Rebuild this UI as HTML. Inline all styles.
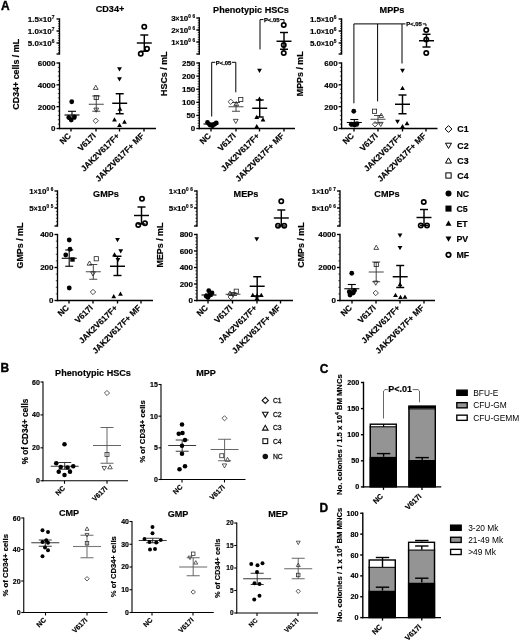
<!DOCTYPE html>
<html><head><meta charset="utf-8"><title>Figure</title>
<style>
html,body{margin:0;padding:0;background:#fff;}
svg{display:block;font-family:"Liberation Sans",sans-serif;}
</style></head><body>
<svg width="520" height="642" viewBox="0 0 520 642">
<rect width="520" height="642" fill="#fff"/>
<text x="0.90" y="9.90" font-size="12" font-weight="bold" text-anchor="start" fill="#000" stroke="#000" stroke-width="0.35">A</text>
<line x1="59.50" y1="62.33" x2="59.50" y2="129.18" stroke="#000" stroke-width="1.35" />
<line x1="57.80" y1="67.37" x2="59.50" y2="67.37" stroke="#000" stroke-width="0.7" />
<line x1="57.80" y1="71.73" x2="59.50" y2="71.73" stroke="#000" stroke-width="0.7" />
<line x1="57.80" y1="76.10" x2="59.50" y2="76.10" stroke="#000" stroke-width="0.7" />
<line x1="57.80" y1="80.47" x2="59.50" y2="80.47" stroke="#000" stroke-width="0.7" />
<line x1="57.80" y1="89.20" x2="59.50" y2="89.20" stroke="#000" stroke-width="0.7" />
<line x1="57.80" y1="93.57" x2="59.50" y2="93.57" stroke="#000" stroke-width="0.7" />
<line x1="57.80" y1="97.93" x2="59.50" y2="97.93" stroke="#000" stroke-width="0.7" />
<line x1="57.80" y1="102.30" x2="59.50" y2="102.30" stroke="#000" stroke-width="0.7" />
<line x1="57.80" y1="111.03" x2="59.50" y2="111.03" stroke="#000" stroke-width="0.7" />
<line x1="57.80" y1="115.40" x2="59.50" y2="115.40" stroke="#000" stroke-width="0.7" />
<line x1="57.80" y1="119.77" x2="59.50" y2="119.77" stroke="#000" stroke-width="0.7" />
<line x1="57.80" y1="124.13" x2="59.50" y2="124.13" stroke="#000" stroke-width="0.7" />
<line x1="56.50" y1="63.00" x2="59.50" y2="63.00" stroke="#000" stroke-width="1.35" />
<text x="55.50" y="65.88" font-size="8" font-weight="bold" text-anchor="end" fill="#000"  stroke="#000" stroke-width="0.18">6000</text>
<line x1="56.50" y1="84.83" x2="59.50" y2="84.83" stroke="#000" stroke-width="1.35" />
<text x="55.50" y="87.71" font-size="8" font-weight="bold" text-anchor="end" fill="#000"  stroke="#000" stroke-width="0.18">4000</text>
<line x1="56.50" y1="106.67" x2="59.50" y2="106.67" stroke="#000" stroke-width="1.35" />
<text x="55.50" y="109.55" font-size="8" font-weight="bold" text-anchor="end" fill="#000"  stroke="#000" stroke-width="0.18">2000</text>
<line x1="56.50" y1="128.50" x2="59.50" y2="128.50" stroke="#000" stroke-width="1.35" />
<text x="55.50" y="131.38" font-size="8" font-weight="bold" text-anchor="end" fill="#000"  stroke="#000" stroke-width="0.18">0</text>
<line x1="59.50" y1="18.32" x2="59.50" y2="54.67" stroke="#000" stroke-width="1.35" />
<line x1="56.50" y1="19.00" x2="59.50" y2="19.00" stroke="#000" stroke-width="1.35" />
<text x="54.30" y="21.90" font-size="8" font-weight="bold" text-anchor="end" fill="#000"  stroke="#000" stroke-width="0.18">1.5<tspan font-size="6.5" dy="-0.3">×</tspan><tspan dy="0.3">10</tspan><tspan font-size="4.8" dy="-3.2">7</tspan></text>
<line x1="56.50" y1="31.00" x2="59.50" y2="31.00" stroke="#000" stroke-width="1.35" />
<text x="54.30" y="33.90" font-size="8" font-weight="bold" text-anchor="end" fill="#000"  stroke="#000" stroke-width="0.18">1.0<tspan font-size="6.5" dy="-0.3">×</tspan><tspan dy="0.3">10</tspan><tspan font-size="4.8" dy="-3.2">7</tspan></text>
<line x1="56.50" y1="43.00" x2="59.50" y2="43.00" stroke="#000" stroke-width="1.35" />
<text x="54.30" y="45.90" font-size="8" font-weight="bold" text-anchor="end" fill="#000"  stroke="#000" stroke-width="0.18">5.0<tspan font-size="6.5" dy="-0.3">×</tspan><tspan dy="0.3">10</tspan><tspan font-size="4.8" dy="-3.2">6</tspan></text>
<line x1="56.50" y1="54.00" x2="59.50" y2="54.00" stroke="#000" stroke-width="1.35" />
<line x1="57.90" y1="21.40" x2="59.50" y2="21.40" stroke="#000" stroke-width="0.7" />
<line x1="57.90" y1="23.80" x2="59.50" y2="23.80" stroke="#000" stroke-width="0.7" />
<line x1="57.90" y1="26.20" x2="59.50" y2="26.20" stroke="#000" stroke-width="0.7" />
<line x1="57.90" y1="28.60" x2="59.50" y2="28.60" stroke="#000" stroke-width="0.7" />
<line x1="57.90" y1="31.00" x2="59.50" y2="31.00" stroke="#000" stroke-width="0.7" />
<line x1="57.90" y1="33.40" x2="59.50" y2="33.40" stroke="#000" stroke-width="0.7" />
<line x1="57.90" y1="35.80" x2="59.50" y2="35.80" stroke="#000" stroke-width="0.7" />
<line x1="57.90" y1="38.20" x2="59.50" y2="38.20" stroke="#000" stroke-width="0.7" />
<line x1="57.90" y1="40.60" x2="59.50" y2="40.60" stroke="#000" stroke-width="0.7" />
<line x1="57.90" y1="43.00" x2="59.50" y2="43.00" stroke="#000" stroke-width="0.7" />
<line x1="57.90" y1="45.40" x2="59.50" y2="45.40" stroke="#000" stroke-width="0.7" />
<line x1="57.90" y1="47.80" x2="59.50" y2="47.80" stroke="#000" stroke-width="0.7" />
<line x1="57.90" y1="50.20" x2="59.50" y2="50.20" stroke="#000" stroke-width="0.7" />
<line x1="57.90" y1="52.60" x2="59.50" y2="52.60" stroke="#000" stroke-width="0.7" />
<line x1="58.83" y1="128.50" x2="156.00" y2="128.50" stroke="#000" stroke-width="1.35" />
<line x1="71.00" y1="128.50" x2="71.00" y2="131.50" stroke="#000" stroke-width="1.35" />
<text x="71.50" y="136.40" font-size="8.3" font-weight="bold" text-anchor="end" fill="#000" transform="rotate(-45 71.50 136.40)"  stroke="#000" stroke-width="0.18">NC</text>
<line x1="96.00" y1="128.50" x2="96.00" y2="131.50" stroke="#000" stroke-width="1.35" />
<text x="96.50" y="136.40" font-size="8.3" font-weight="bold" text-anchor="end" fill="#000" transform="rotate(-45 96.50 136.40)"  stroke="#000" stroke-width="0.18">V617I</text>
<line x1="119.50" y1="128.50" x2="119.50" y2="131.50" stroke="#000" stroke-width="1.35" />
<text x="120.00" y="136.40" font-size="8.3" font-weight="bold" text-anchor="end" fill="#000" transform="rotate(-45 120.00 136.40)"  stroke="#000" stroke-width="0.18">JAK2V617F+</text>
<line x1="144.00" y1="128.50" x2="144.00" y2="131.50" stroke="#000" stroke-width="1.35" />
<text x="144.50" y="136.40" font-size="8.3" font-weight="bold" text-anchor="end" fill="#000" transform="rotate(-45 144.50 136.40)"  stroke="#000" stroke-width="0.18">JAK2V617F+ MF</text>
<text x="110.00" y="12.00" font-size="9.1" font-weight="bold" text-anchor="middle" fill="#000"  stroke="#000" stroke-width="0.18">CD34+</text>
<text x="19.40" y="74.30" font-size="8.9" font-weight="bold" text-anchor="middle" fill="#000" transform="rotate(-90 19.40 74.30)"  stroke="#000" stroke-width="0.18">CD34+ cells / mL</text>
<line x1="64.50" y1="115.00" x2="79.50" y2="115.00" stroke="#000" stroke-width="1.1" />
<line x1="72.00" y1="111.30" x2="72.00" y2="119.00" stroke="#000" stroke-width="1.1" />
<line x1="68.00" y1="111.30" x2="76.00" y2="111.30" stroke="#000" stroke-width="1.1" />
<line x1="68.00" y1="119.00" x2="76.00" y2="119.00" stroke="#000" stroke-width="1.1" />
<circle cx="71.75" cy="101.75" r="2.40" fill="#000"/>
<circle cx="68.75" cy="117.50" r="2.40" fill="#000"/>
<circle cx="71.25" cy="120.00" r="2.40" fill="#000"/>
<circle cx="74.50" cy="117.00" r="2.40" fill="#000"/>
<line x1="88.75" y1="104.25" x2="103.75" y2="104.25" stroke="#333" stroke-width="0.9" />
<line x1="96.25" y1="96.00" x2="96.25" y2="111.25" stroke="#333" stroke-width="0.9" />
<line x1="92.25" y1="96.00" x2="100.25" y2="96.00" stroke="#333" stroke-width="0.9" />
<line x1="92.25" y1="111.25" x2="100.25" y2="111.25" stroke="#333" stroke-width="0.9" />
<polygon points="93.35,89.42 98.15,89.42 95.75,85.22" fill="none" stroke="#222" stroke-width="0.8"/>
<rect x="94.15" y="95.40" width="4.20" height="4.20" fill="none" stroke="#222" stroke-width="0.8"/>
<polygon points="93.85,108.08 98.65,108.08 96.25,112.28" fill="none" stroke="#222" stroke-width="0.8"/>
<polygon points="93.05,120.75 95.75,118.05 98.45,120.75 95.75,123.45" fill="none" stroke="#222" stroke-width="0.8"/>
<line x1="112.20" y1="103.25" x2="127.20" y2="103.25" stroke="#000" stroke-width="1.45" />
<line x1="119.70" y1="93.75" x2="119.70" y2="113.75" stroke="#000" stroke-width="1.45" />
<line x1="115.70" y1="93.75" x2="123.70" y2="93.75" stroke="#000" stroke-width="1.45" />
<line x1="115.70" y1="113.75" x2="123.70" y2="113.75" stroke="#000" stroke-width="1.45" />
<polygon points="117.10,67.33 121.90,67.33 119.50,71.53" fill="#000"/>
<polygon points="117.10,77.33 121.90,77.33 119.50,81.53" fill="#000"/>
<polygon points="117.60,110.67 122.40,110.67 120.00,106.47" fill="#000"/>
<polygon points="112.10,121.42 116.90,121.42 114.50,117.22" fill="#000"/>
<polygon points="122.10,123.67 126.90,123.67 124.50,119.47" fill="#000"/>
<polygon points="117.10,126.92 121.90,126.92 119.50,122.72" fill="#000"/>
<line x1="136.80" y1="43.00" x2="151.80" y2="43.00" stroke="#000" stroke-width="1.45" />
<line x1="144.30" y1="35.00" x2="144.30" y2="51.25" stroke="#000" stroke-width="1.45" />
<line x1="140.30" y1="35.00" x2="148.30" y2="35.00" stroke="#000" stroke-width="1.45" />
<line x1="140.30" y1="51.25" x2="148.30" y2="51.25" stroke="#000" stroke-width="1.45" />
<circle cx="144.25" cy="26.75" r="2.15" fill="none" stroke="#000" stroke-width="1.7"/>
<circle cx="147.00" cy="48.75" r="2.15" fill="none" stroke="#000" stroke-width="1.7"/>
<circle cx="140.75" cy="53.75" r="2.15" fill="none" stroke="#000" stroke-width="1.7"/>
<line x1="199.30" y1="62.33" x2="199.30" y2="129.18" stroke="#000" stroke-width="1.35" />
<line x1="197.60" y1="65.62" x2="199.30" y2="65.62" stroke="#000" stroke-width="0.7" />
<line x1="197.60" y1="68.24" x2="199.30" y2="68.24" stroke="#000" stroke-width="0.7" />
<line x1="197.60" y1="70.86" x2="199.30" y2="70.86" stroke="#000" stroke-width="0.7" />
<line x1="197.60" y1="73.48" x2="199.30" y2="73.48" stroke="#000" stroke-width="0.7" />
<line x1="197.60" y1="78.72" x2="199.30" y2="78.72" stroke="#000" stroke-width="0.7" />
<line x1="197.60" y1="81.34" x2="199.30" y2="81.34" stroke="#000" stroke-width="0.7" />
<line x1="197.60" y1="83.96" x2="199.30" y2="83.96" stroke="#000" stroke-width="0.7" />
<line x1="197.60" y1="86.58" x2="199.30" y2="86.58" stroke="#000" stroke-width="0.7" />
<line x1="197.60" y1="91.82" x2="199.30" y2="91.82" stroke="#000" stroke-width="0.7" />
<line x1="197.60" y1="94.44" x2="199.30" y2="94.44" stroke="#000" stroke-width="0.7" />
<line x1="197.60" y1="97.06" x2="199.30" y2="97.06" stroke="#000" stroke-width="0.7" />
<line x1="197.60" y1="99.68" x2="199.30" y2="99.68" stroke="#000" stroke-width="0.7" />
<line x1="197.60" y1="104.92" x2="199.30" y2="104.92" stroke="#000" stroke-width="0.7" />
<line x1="197.60" y1="107.54" x2="199.30" y2="107.54" stroke="#000" stroke-width="0.7" />
<line x1="197.60" y1="110.16" x2="199.30" y2="110.16" stroke="#000" stroke-width="0.7" />
<line x1="197.60" y1="112.78" x2="199.30" y2="112.78" stroke="#000" stroke-width="0.7" />
<line x1="197.60" y1="118.02" x2="199.30" y2="118.02" stroke="#000" stroke-width="0.7" />
<line x1="197.60" y1="120.64" x2="199.30" y2="120.64" stroke="#000" stroke-width="0.7" />
<line x1="197.60" y1="123.26" x2="199.30" y2="123.26" stroke="#000" stroke-width="0.7" />
<line x1="197.60" y1="125.88" x2="199.30" y2="125.88" stroke="#000" stroke-width="0.7" />
<line x1="196.30" y1="63.00" x2="199.30" y2="63.00" stroke="#000" stroke-width="1.35" />
<text x="195.30" y="65.88" font-size="8" font-weight="bold" text-anchor="end" fill="#000"  stroke="#000" stroke-width="0.18">250</text>
<line x1="196.30" y1="76.10" x2="199.30" y2="76.10" stroke="#000" stroke-width="1.35" />
<text x="195.30" y="78.98" font-size="8" font-weight="bold" text-anchor="end" fill="#000"  stroke="#000" stroke-width="0.18">200</text>
<line x1="196.30" y1="89.20" x2="199.30" y2="89.20" stroke="#000" stroke-width="1.35" />
<text x="195.30" y="92.08" font-size="8" font-weight="bold" text-anchor="end" fill="#000"  stroke="#000" stroke-width="0.18">150</text>
<line x1="196.30" y1="102.30" x2="199.30" y2="102.30" stroke="#000" stroke-width="1.35" />
<text x="195.30" y="105.18" font-size="8" font-weight="bold" text-anchor="end" fill="#000"  stroke="#000" stroke-width="0.18">100</text>
<line x1="196.30" y1="115.40" x2="199.30" y2="115.40" stroke="#000" stroke-width="1.35" />
<text x="195.30" y="118.28" font-size="8" font-weight="bold" text-anchor="end" fill="#000"  stroke="#000" stroke-width="0.18">50</text>
<line x1="196.30" y1="128.50" x2="199.30" y2="128.50" stroke="#000" stroke-width="1.35" />
<text x="195.30" y="131.38" font-size="8" font-weight="bold" text-anchor="end" fill="#000"  stroke="#000" stroke-width="0.18">0</text>
<line x1="199.30" y1="17.32" x2="199.30" y2="54.67" stroke="#000" stroke-width="1.35" />
<line x1="196.30" y1="18.00" x2="199.30" y2="18.00" stroke="#000" stroke-width="1.35" />
<text x="196.60" y="20.90" font-size="8" font-weight="bold" text-anchor="end" fill="#000"  stroke="#000" stroke-width="0.18">3<tspan font-size="6.5" dy="-0.3">×</tspan><tspan dy="0.3">10</tspan><tspan font-size="4.6" dy="-3.2" letter-spacing="1.6">06</tspan></text>
<line x1="196.30" y1="30.00" x2="199.30" y2="30.00" stroke="#000" stroke-width="1.35" />
<text x="196.60" y="32.90" font-size="8" font-weight="bold" text-anchor="end" fill="#000"  stroke="#000" stroke-width="0.18">2<tspan font-size="6.5" dy="-0.3">×</tspan><tspan dy="0.3">10</tspan><tspan font-size="4.6" dy="-3.2" letter-spacing="1.6">06</tspan></text>
<line x1="196.30" y1="42.00" x2="199.30" y2="42.00" stroke="#000" stroke-width="1.35" />
<text x="196.60" y="44.90" font-size="8" font-weight="bold" text-anchor="end" fill="#000"  stroke="#000" stroke-width="0.18">1<tspan font-size="6.5" dy="-0.3">×</tspan><tspan dy="0.3">10</tspan><tspan font-size="4.6" dy="-3.2" letter-spacing="1.6">06</tspan></text>
<line x1="196.30" y1="54.00" x2="199.30" y2="54.00" stroke="#000" stroke-width="1.35" />
<line x1="197.70" y1="20.40" x2="199.30" y2="20.40" stroke="#000" stroke-width="0.7" />
<line x1="197.70" y1="22.80" x2="199.30" y2="22.80" stroke="#000" stroke-width="0.7" />
<line x1="197.70" y1="25.20" x2="199.30" y2="25.20" stroke="#000" stroke-width="0.7" />
<line x1="197.70" y1="27.60" x2="199.30" y2="27.60" stroke="#000" stroke-width="0.7" />
<line x1="197.70" y1="30.00" x2="199.30" y2="30.00" stroke="#000" stroke-width="0.7" />
<line x1="197.70" y1="32.40" x2="199.30" y2="32.40" stroke="#000" stroke-width="0.7" />
<line x1="197.70" y1="34.80" x2="199.30" y2="34.80" stroke="#000" stroke-width="0.7" />
<line x1="197.70" y1="37.20" x2="199.30" y2="37.20" stroke="#000" stroke-width="0.7" />
<line x1="197.70" y1="39.60" x2="199.30" y2="39.60" stroke="#000" stroke-width="0.7" />
<line x1="197.70" y1="42.00" x2="199.30" y2="42.00" stroke="#000" stroke-width="0.7" />
<line x1="197.70" y1="44.40" x2="199.30" y2="44.40" stroke="#000" stroke-width="0.7" />
<line x1="197.70" y1="46.80" x2="199.30" y2="46.80" stroke="#000" stroke-width="0.7" />
<line x1="197.70" y1="49.20" x2="199.30" y2="49.20" stroke="#000" stroke-width="0.7" />
<line x1="197.70" y1="51.60" x2="199.30" y2="51.60" stroke="#000" stroke-width="0.7" />
<line x1="198.62" y1="128.50" x2="295.00" y2="128.50" stroke="#000" stroke-width="1.35" />
<line x1="211.00" y1="128.50" x2="211.00" y2="131.50" stroke="#000" stroke-width="1.35" />
<text x="211.50" y="136.40" font-size="8.3" font-weight="bold" text-anchor="end" fill="#000" transform="rotate(-45 211.50 136.40)"  stroke="#000" stroke-width="0.18">NC</text>
<line x1="236.00" y1="128.50" x2="236.00" y2="131.50" stroke="#000" stroke-width="1.35" />
<text x="236.50" y="136.40" font-size="8.3" font-weight="bold" text-anchor="end" fill="#000" transform="rotate(-45 236.50 136.40)"  stroke="#000" stroke-width="0.18">V617I</text>
<line x1="259.50" y1="128.50" x2="259.50" y2="131.50" stroke="#000" stroke-width="1.35" />
<text x="260.00" y="136.40" font-size="8.3" font-weight="bold" text-anchor="end" fill="#000" transform="rotate(-45 260.00 136.40)"  stroke="#000" stroke-width="0.18">JAK2V617F+</text>
<line x1="284.00" y1="128.50" x2="284.00" y2="131.50" stroke="#000" stroke-width="1.35" />
<text x="284.50" y="136.40" font-size="8.3" font-weight="bold" text-anchor="end" fill="#000" transform="rotate(-45 284.50 136.40)"  stroke="#000" stroke-width="0.18">JAK2V617F+ MF</text>
<text x="251.00" y="12.50" font-size="9.1" font-weight="bold" text-anchor="middle" fill="#000"  stroke="#000" stroke-width="0.18">Phenotypic HSCs</text>
<text x="167.30" y="73.70" font-size="8.9" font-weight="bold" text-anchor="middle" fill="#000" transform="rotate(-90 167.30 73.70)"  stroke="#000" stroke-width="0.18">HSCs / mL</text>
<line x1="203.50" y1="124.00" x2="218.50" y2="124.00" stroke="#000" stroke-width="1.1" />
<line x1="211.00" y1="123.00" x2="211.00" y2="125.00" stroke="#000" stroke-width="1.1" />
<line x1="207.00" y1="123.00" x2="215.00" y2="123.00" stroke="#000" stroke-width="1.1" />
<line x1="207.00" y1="125.00" x2="215.00" y2="125.00" stroke="#000" stroke-width="1.1" />
<circle cx="207.50" cy="122.50" r="2.40" fill="#000"/>
<circle cx="210.00" cy="125.00" r="2.40" fill="#000"/>
<circle cx="212.50" cy="125.75" r="2.40" fill="#000"/>
<circle cx="216.25" cy="123.00" r="2.40" fill="#000"/>
<circle cx="214.50" cy="124.25" r="2.40" fill="#000"/>
<line x1="228.50" y1="106.75" x2="243.50" y2="106.75" stroke="#333" stroke-width="0.9" />
<line x1="236.00" y1="102.50" x2="236.00" y2="111.25" stroke="#333" stroke-width="0.9" />
<line x1="232.00" y1="102.50" x2="240.00" y2="102.50" stroke="#333" stroke-width="0.9" />
<line x1="232.00" y1="111.25" x2="240.00" y2="111.25" stroke="#333" stroke-width="0.9" />
<polygon points="228.05,101.75 230.75,99.05 233.45,101.75 230.75,104.45" fill="none" stroke="#222" stroke-width="0.8"/>
<rect x="238.65" y="97.40" width="4.20" height="4.20" fill="none" stroke="#222" stroke-width="0.8"/>
<polygon points="233.85,105.67 238.65,105.67 236.25,101.47" fill="none" stroke="#222" stroke-width="0.8"/>
<polygon points="233.35,119.33 238.15,119.33 235.75,123.53" fill="none" stroke="#222" stroke-width="0.8"/>
<line x1="252.20" y1="108.25" x2="267.20" y2="108.25" stroke="#000" stroke-width="1.45" />
<line x1="259.70" y1="100.00" x2="259.70" y2="117.00" stroke="#000" stroke-width="1.45" />
<line x1="255.70" y1="100.00" x2="263.70" y2="100.00" stroke="#000" stroke-width="1.45" />
<line x1="255.70" y1="117.00" x2="263.70" y2="117.00" stroke="#000" stroke-width="1.45" />
<polygon points="257.10,68.83 261.90,68.83 259.50,73.03" fill="#000"/>
<polygon points="257.10,100.67 261.90,100.67 259.50,96.47" fill="#000"/>
<polygon points="254.35,118.92 259.15,118.92 256.75,114.72" fill="#000"/>
<polygon points="260.60,121.42 265.40,121.42 263.00,117.22" fill="#000"/>
<polygon points="254.35,128.17 259.15,128.17 256.75,123.97" fill="#000"/>
<line x1="276.50" y1="41.25" x2="291.50" y2="41.25" stroke="#000" stroke-width="1.45" />
<line x1="284.00" y1="32.50" x2="284.00" y2="49.25" stroke="#000" stroke-width="1.45" />
<line x1="280.00" y1="32.50" x2="288.00" y2="32.50" stroke="#000" stroke-width="1.45" />
<line x1="280.00" y1="49.25" x2="288.00" y2="49.25" stroke="#000" stroke-width="1.45" />
<circle cx="283.75" cy="25.00" r="2.15" fill="none" stroke="#000" stroke-width="1.7"/>
<circle cx="283.75" cy="45.00" r="2.15" fill="none" stroke="#000" stroke-width="1.7"/>
<circle cx="283.75" cy="53.00" r="2.15" fill="none" stroke="#000" stroke-width="1.7"/>
<polyline points="211.7,116.5 211.7,62.3 215.3,62.3" fill="none" stroke="#000" stroke-width="1"/>
<polyline points="231.8,62.3 235.8,62.3 235.8,92.3" fill="none" stroke="#000" stroke-width="1"/>
<text x="223.60" y="64.50" font-size="5.9" font-weight="bold" text-anchor="middle" fill="#000" stroke="#000" stroke-width="0.25">P&lt;.05</text>
<polyline points="260,49.4 260,19.6 263.5,19.6" fill="none" stroke="#000" stroke-width="1"/>
<polyline points="280,19.6 284,19.6 284,22" fill="none" stroke="#000" stroke-width="1"/>
<text x="271.70" y="21.80" font-size="5.9" font-weight="bold" text-anchor="middle" fill="#000" stroke="#000" stroke-width="0.25">P&lt;.05</text>
<line x1="341.60" y1="62.33" x2="341.60" y2="129.18" stroke="#000" stroke-width="1.35" />
<line x1="339.90" y1="67.37" x2="341.60" y2="67.37" stroke="#000" stroke-width="0.7" />
<line x1="339.90" y1="71.73" x2="341.60" y2="71.73" stroke="#000" stroke-width="0.7" />
<line x1="339.90" y1="76.10" x2="341.60" y2="76.10" stroke="#000" stroke-width="0.7" />
<line x1="339.90" y1="80.47" x2="341.60" y2="80.47" stroke="#000" stroke-width="0.7" />
<line x1="339.90" y1="89.20" x2="341.60" y2="89.20" stroke="#000" stroke-width="0.7" />
<line x1="339.90" y1="93.57" x2="341.60" y2="93.57" stroke="#000" stroke-width="0.7" />
<line x1="339.90" y1="97.93" x2="341.60" y2="97.93" stroke="#000" stroke-width="0.7" />
<line x1="339.90" y1="102.30" x2="341.60" y2="102.30" stroke="#000" stroke-width="0.7" />
<line x1="339.90" y1="111.03" x2="341.60" y2="111.03" stroke="#000" stroke-width="0.7" />
<line x1="339.90" y1="115.40" x2="341.60" y2="115.40" stroke="#000" stroke-width="0.7" />
<line x1="339.90" y1="119.77" x2="341.60" y2="119.77" stroke="#000" stroke-width="0.7" />
<line x1="339.90" y1="124.13" x2="341.60" y2="124.13" stroke="#000" stroke-width="0.7" />
<line x1="338.60" y1="63.00" x2="341.60" y2="63.00" stroke="#000" stroke-width="1.35" />
<text x="337.60" y="65.88" font-size="8" font-weight="bold" text-anchor="end" fill="#000"  stroke="#000" stroke-width="0.18">600</text>
<line x1="338.60" y1="84.83" x2="341.60" y2="84.83" stroke="#000" stroke-width="1.35" />
<text x="337.60" y="87.71" font-size="8" font-weight="bold" text-anchor="end" fill="#000"  stroke="#000" stroke-width="0.18">400</text>
<line x1="338.60" y1="106.67" x2="341.60" y2="106.67" stroke="#000" stroke-width="1.35" />
<text x="337.60" y="109.55" font-size="8" font-weight="bold" text-anchor="end" fill="#000"  stroke="#000" stroke-width="0.18">200</text>
<line x1="338.60" y1="128.50" x2="341.60" y2="128.50" stroke="#000" stroke-width="1.35" />
<text x="337.60" y="131.38" font-size="8" font-weight="bold" text-anchor="end" fill="#000"  stroke="#000" stroke-width="0.18">0</text>
<line x1="341.60" y1="18.32" x2="341.60" y2="54.67" stroke="#000" stroke-width="1.35" />
<line x1="338.60" y1="19.00" x2="341.60" y2="19.00" stroke="#000" stroke-width="1.35" />
<text x="336.40" y="21.90" font-size="8" font-weight="bold" text-anchor="end" fill="#000"  stroke="#000" stroke-width="0.18">1.5<tspan font-size="6.5" dy="-0.3">×</tspan><tspan dy="0.3">10</tspan><tspan font-size="4.8" dy="-3.2">6</tspan></text>
<line x1="338.60" y1="31.00" x2="341.60" y2="31.00" stroke="#000" stroke-width="1.35" />
<text x="336.40" y="33.90" font-size="8" font-weight="bold" text-anchor="end" fill="#000"  stroke="#000" stroke-width="0.18">1.0<tspan font-size="6.5" dy="-0.3">×</tspan><tspan dy="0.3">10</tspan><tspan font-size="4.8" dy="-3.2">6</tspan></text>
<line x1="338.60" y1="43.00" x2="341.60" y2="43.00" stroke="#000" stroke-width="1.35" />
<text x="336.40" y="45.90" font-size="8" font-weight="bold" text-anchor="end" fill="#000"  stroke="#000" stroke-width="0.18">5.0<tspan font-size="6.5" dy="-0.3">×</tspan><tspan dy="0.3">10</tspan><tspan font-size="4.8" dy="-3.2">5</tspan></text>
<line x1="338.60" y1="54.00" x2="341.60" y2="54.00" stroke="#000" stroke-width="1.35" />
<line x1="340.00" y1="21.40" x2="341.60" y2="21.40" stroke="#000" stroke-width="0.7" />
<line x1="340.00" y1="23.80" x2="341.60" y2="23.80" stroke="#000" stroke-width="0.7" />
<line x1="340.00" y1="26.20" x2="341.60" y2="26.20" stroke="#000" stroke-width="0.7" />
<line x1="340.00" y1="28.60" x2="341.60" y2="28.60" stroke="#000" stroke-width="0.7" />
<line x1="340.00" y1="31.00" x2="341.60" y2="31.00" stroke="#000" stroke-width="0.7" />
<line x1="340.00" y1="33.40" x2="341.60" y2="33.40" stroke="#000" stroke-width="0.7" />
<line x1="340.00" y1="35.80" x2="341.60" y2="35.80" stroke="#000" stroke-width="0.7" />
<line x1="340.00" y1="38.20" x2="341.60" y2="38.20" stroke="#000" stroke-width="0.7" />
<line x1="340.00" y1="40.60" x2="341.60" y2="40.60" stroke="#000" stroke-width="0.7" />
<line x1="340.00" y1="43.00" x2="341.60" y2="43.00" stroke="#000" stroke-width="0.7" />
<line x1="340.00" y1="45.40" x2="341.60" y2="45.40" stroke="#000" stroke-width="0.7" />
<line x1="340.00" y1="47.80" x2="341.60" y2="47.80" stroke="#000" stroke-width="0.7" />
<line x1="340.00" y1="50.20" x2="341.60" y2="50.20" stroke="#000" stroke-width="0.7" />
<line x1="340.00" y1="52.60" x2="341.60" y2="52.60" stroke="#000" stroke-width="0.7" />
<line x1="340.93" y1="128.50" x2="437.50" y2="128.50" stroke="#000" stroke-width="1.35" />
<line x1="354.00" y1="128.50" x2="354.00" y2="131.50" stroke="#000" stroke-width="1.35" />
<text x="354.50" y="136.40" font-size="8.3" font-weight="bold" text-anchor="end" fill="#000" transform="rotate(-45 354.50 136.40)"  stroke="#000" stroke-width="0.18">NC</text>
<line x1="378.00" y1="128.50" x2="378.00" y2="131.50" stroke="#000" stroke-width="1.35" />
<text x="378.50" y="136.40" font-size="8.3" font-weight="bold" text-anchor="end" fill="#000" transform="rotate(-45 378.50 136.40)"  stroke="#000" stroke-width="0.18">V617I</text>
<line x1="402.50" y1="128.50" x2="402.50" y2="131.50" stroke="#000" stroke-width="1.35" />
<text x="403.00" y="136.40" font-size="8.3" font-weight="bold" text-anchor="end" fill="#000" transform="rotate(-45 403.00 136.40)"  stroke="#000" stroke-width="0.18">JAK2V617F+</text>
<line x1="426.00" y1="128.50" x2="426.00" y2="131.50" stroke="#000" stroke-width="1.35" />
<text x="426.50" y="136.40" font-size="8.3" font-weight="bold" text-anchor="end" fill="#000" transform="rotate(-45 426.50 136.40)"  stroke="#000" stroke-width="0.18">JAK2V617F+ MF</text>
<text x="392.00" y="12.50" font-size="9.1" font-weight="bold" text-anchor="middle" fill="#000"  stroke="#000" stroke-width="0.18">MPPs</text>
<text x="303.30" y="73.80" font-size="8.9" font-weight="bold" text-anchor="middle" fill="#000" transform="rotate(-90 303.30 73.80)"  stroke="#000" stroke-width="0.18">MPPs / mL</text>
<line x1="346.80" y1="122.50" x2="361.80" y2="122.50" stroke="#000" stroke-width="1.1" />
<line x1="354.30" y1="119.50" x2="354.30" y2="126.00" stroke="#000" stroke-width="1.1" />
<line x1="350.30" y1="119.50" x2="358.30" y2="119.50" stroke="#000" stroke-width="1.1" />
<line x1="350.30" y1="126.00" x2="358.30" y2="126.00" stroke="#000" stroke-width="1.1" />
<circle cx="353.75" cy="111.25" r="2.40" fill="#000"/>
<circle cx="351.25" cy="124.25" r="2.40" fill="#000"/>
<circle cx="354.50" cy="125.00" r="2.40" fill="#000"/>
<circle cx="357.00" cy="123.75" r="2.40" fill="#000"/>
<line x1="370.50" y1="119.25" x2="385.50" y2="119.25" stroke="#333" stroke-width="0.9" />
<line x1="378.00" y1="115.50" x2="378.00" y2="123.00" stroke="#333" stroke-width="0.9" />
<line x1="374.00" y1="115.50" x2="382.00" y2="115.50" stroke="#333" stroke-width="0.9" />
<line x1="374.00" y1="123.00" x2="382.00" y2="123.00" stroke="#333" stroke-width="0.9" />
<rect x="372.40" y="109.15" width="4.20" height="4.20" fill="none" stroke="#222" stroke-width="0.8"/>
<polygon points="378.85,117.42 383.65,117.42 381.25,113.22" fill="none" stroke="#222" stroke-width="0.8"/>
<polygon points="372.30,124.25 375.00,121.55 377.70,124.25 375.00,126.95" fill="none" stroke="#222" stroke-width="0.8"/>
<polygon points="378.35,122.33 383.15,122.33 380.75,126.53" fill="none" stroke="#222" stroke-width="0.8"/>
<line x1="395.00" y1="104.25" x2="410.00" y2="104.25" stroke="#000" stroke-width="1.45" />
<line x1="402.50" y1="95.00" x2="402.50" y2="113.75" stroke="#000" stroke-width="1.45" />
<line x1="398.50" y1="95.00" x2="406.50" y2="95.00" stroke="#000" stroke-width="1.45" />
<line x1="398.50" y1="113.75" x2="406.50" y2="113.75" stroke="#000" stroke-width="1.45" />
<polygon points="400.10,68.83 404.90,68.83 402.50,73.03" fill="#000"/>
<polygon points="400.10,89.92 404.90,89.92 402.50,85.72" fill="#000"/>
<polygon points="395.10,119.83 399.90,119.83 397.50,124.03" fill="#000"/>
<polygon points="404.60,125.17 409.40,125.17 407.00,120.97" fill="#000"/>
<polygon points="400.10,128.17 404.90,128.17 402.50,123.97" fill="#000"/>
<line x1="419.00" y1="40.75" x2="434.00" y2="40.75" stroke="#000" stroke-width="1.45" />
<line x1="426.50" y1="34.25" x2="426.50" y2="47.00" stroke="#000" stroke-width="1.45" />
<line x1="422.50" y1="34.25" x2="430.50" y2="34.25" stroke="#000" stroke-width="1.45" />
<line x1="422.50" y1="47.00" x2="430.50" y2="47.00" stroke="#000" stroke-width="1.45" />
<circle cx="426.25" cy="30.00" r="2.15" fill="none" stroke="#000" stroke-width="1.7"/>
<circle cx="426.25" cy="39.50" r="2.15" fill="none" stroke="#000" stroke-width="1.7"/>
<circle cx="426.25" cy="53.00" r="2.15" fill="none" stroke="#000" stroke-width="1.7"/>
<polyline points="353.9,103.3 353.9,23.9 405.5,23.9" fill="none" stroke="#000" stroke-width="1"/>
<line x1="377.60" y1="23.90" x2="377.60" y2="101.40" stroke="#000" stroke-width="1" />
<line x1="402.00" y1="23.90" x2="402.00" y2="63.50" stroke="#000" stroke-width="1" />
<polyline points="422.8,23.9 426,23.9 426,26.3" fill="none" stroke="#000" stroke-width="1"/>
<text x="414.10" y="26.10" font-size="5.9" font-weight="bold" text-anchor="middle" fill="#000" stroke="#000" stroke-width="0.25">P&lt;.05</text>
<line x1="57.50" y1="233.82" x2="57.50" y2="301.18" stroke="#000" stroke-width="1.35" />
<line x1="55.80" y1="241.10" x2="57.50" y2="241.10" stroke="#000" stroke-width="0.7" />
<line x1="55.80" y1="247.70" x2="57.50" y2="247.70" stroke="#000" stroke-width="0.7" />
<line x1="55.80" y1="254.30" x2="57.50" y2="254.30" stroke="#000" stroke-width="0.7" />
<line x1="55.80" y1="260.90" x2="57.50" y2="260.90" stroke="#000" stroke-width="0.7" />
<line x1="55.80" y1="274.10" x2="57.50" y2="274.10" stroke="#000" stroke-width="0.7" />
<line x1="55.80" y1="280.70" x2="57.50" y2="280.70" stroke="#000" stroke-width="0.7" />
<line x1="55.80" y1="287.30" x2="57.50" y2="287.30" stroke="#000" stroke-width="0.7" />
<line x1="55.80" y1="293.90" x2="57.50" y2="293.90" stroke="#000" stroke-width="0.7" />
<line x1="54.50" y1="234.50" x2="57.50" y2="234.50" stroke="#000" stroke-width="1.35" />
<text x="53.50" y="237.38" font-size="8" font-weight="bold" text-anchor="end" fill="#000"  stroke="#000" stroke-width="0.18">400</text>
<line x1="54.50" y1="267.50" x2="57.50" y2="267.50" stroke="#000" stroke-width="1.35" />
<text x="53.50" y="270.38" font-size="8" font-weight="bold" text-anchor="end" fill="#000"  stroke="#000" stroke-width="0.18">200</text>
<line x1="54.50" y1="300.50" x2="57.50" y2="300.50" stroke="#000" stroke-width="1.35" />
<text x="53.50" y="303.38" font-size="8" font-weight="bold" text-anchor="end" fill="#000"  stroke="#000" stroke-width="0.18">0</text>
<line x1="57.50" y1="190.32" x2="57.50" y2="226.68" stroke="#000" stroke-width="1.35" />
<line x1="54.50" y1="191.00" x2="57.50" y2="191.00" stroke="#000" stroke-width="1.35" />
<text x="54.80" y="193.90" font-size="8" font-weight="bold" text-anchor="end" fill="#000"  stroke="#000" stroke-width="0.18">1<tspan font-size="6.5" dy="-0.3">×</tspan><tspan dy="0.3">10</tspan><tspan font-size="4.6" dy="-3.2" letter-spacing="1.6">06</tspan></text>
<line x1="54.50" y1="208.00" x2="57.50" y2="208.00" stroke="#000" stroke-width="1.35" />
<text x="54.80" y="210.90" font-size="8" font-weight="bold" text-anchor="end" fill="#000"  stroke="#000" stroke-width="0.18">5<tspan font-size="6.5" dy="-0.3">×</tspan><tspan dy="0.3">10</tspan><tspan font-size="4.6" dy="-3.2" letter-spacing="1.6">05</tspan></text>
<line x1="54.50" y1="226.00" x2="57.50" y2="226.00" stroke="#000" stroke-width="1.35" />
<line x1="55.90" y1="194.40" x2="57.50" y2="194.40" stroke="#000" stroke-width="0.7" />
<line x1="55.90" y1="197.80" x2="57.50" y2="197.80" stroke="#000" stroke-width="0.7" />
<line x1="55.90" y1="201.20" x2="57.50" y2="201.20" stroke="#000" stroke-width="0.7" />
<line x1="55.90" y1="204.60" x2="57.50" y2="204.60" stroke="#000" stroke-width="0.7" />
<line x1="55.90" y1="208.00" x2="57.50" y2="208.00" stroke="#000" stroke-width="0.7" />
<line x1="55.90" y1="211.40" x2="57.50" y2="211.40" stroke="#000" stroke-width="0.7" />
<line x1="55.90" y1="214.80" x2="57.50" y2="214.80" stroke="#000" stroke-width="0.7" />
<line x1="55.90" y1="218.20" x2="57.50" y2="218.20" stroke="#000" stroke-width="0.7" />
<line x1="55.90" y1="221.60" x2="57.50" y2="221.60" stroke="#000" stroke-width="0.7" />
<line x1="55.90" y1="225.00" x2="57.50" y2="225.00" stroke="#000" stroke-width="0.7" />
<line x1="56.83" y1="300.50" x2="153.00" y2="300.50" stroke="#000" stroke-width="1.35" />
<line x1="69.00" y1="300.50" x2="69.00" y2="303.50" stroke="#000" stroke-width="1.35" />
<text x="69.50" y="308.40" font-size="8.3" font-weight="bold" text-anchor="end" fill="#000" transform="rotate(-45 69.50 308.40)"  stroke="#000" stroke-width="0.18">NC</text>
<line x1="93.00" y1="300.50" x2="93.00" y2="303.50" stroke="#000" stroke-width="1.35" />
<text x="93.50" y="308.40" font-size="8.3" font-weight="bold" text-anchor="end" fill="#000" transform="rotate(-45 93.50 308.40)"  stroke="#000" stroke-width="0.18">V617I</text>
<line x1="117.50" y1="300.50" x2="117.50" y2="303.50" stroke="#000" stroke-width="1.35" />
<text x="118.00" y="308.40" font-size="8.3" font-weight="bold" text-anchor="end" fill="#000" transform="rotate(-45 118.00 308.40)"  stroke="#000" stroke-width="0.18">JAK2V617F+</text>
<line x1="141.00" y1="300.50" x2="141.00" y2="303.50" stroke="#000" stroke-width="1.35" />
<text x="141.50" y="308.40" font-size="8.3" font-weight="bold" text-anchor="end" fill="#000" transform="rotate(-45 141.50 308.40)"  stroke="#000" stroke-width="0.18">JAK2V617F+ MF</text>
<text x="106.00" y="197.00" font-size="9.1" font-weight="bold" text-anchor="middle" fill="#000"  stroke="#000" stroke-width="0.18">GMPs</text>
<text x="23.00" y="245.50" font-size="8.9" font-weight="bold" text-anchor="middle" fill="#000" transform="rotate(-90 23.00 245.50)"  stroke="#000" stroke-width="0.18">GMPs / mL</text>
<line x1="61.70" y1="258.25" x2="76.70" y2="258.25" stroke="#000" stroke-width="1.1" />
<line x1="69.20" y1="250.00" x2="69.20" y2="266.25" stroke="#000" stroke-width="1.1" />
<line x1="65.20" y1="250.00" x2="73.20" y2="250.00" stroke="#000" stroke-width="1.1" />
<line x1="65.20" y1="266.25" x2="73.20" y2="266.25" stroke="#000" stroke-width="1.1" />
<circle cx="69.25" cy="240.00" r="2.40" fill="#000"/>
<circle cx="70.00" cy="249.25" r="2.40" fill="#000"/>
<circle cx="65.75" cy="255.00" r="2.40" fill="#000"/>
<rect x="70.30" y="257.30" width="4.40" height="4.40" fill="#000"/>
<circle cx="69.25" cy="288.00" r="2.40" fill="#000"/>
<line x1="85.80" y1="271.75" x2="100.80" y2="271.75" stroke="#333" stroke-width="0.9" />
<line x1="93.30" y1="264.50" x2="93.30" y2="279.25" stroke="#333" stroke-width="0.9" />
<line x1="89.30" y1="264.50" x2="97.30" y2="264.50" stroke="#333" stroke-width="0.9" />
<line x1="89.30" y1="279.25" x2="97.30" y2="279.25" stroke="#333" stroke-width="0.9" />
<rect x="94.15" y="256.65" width="4.20" height="4.20" fill="none" stroke="#222" stroke-width="0.8"/>
<polygon points="87.10,265.17 91.90,265.17 89.50,260.97" fill="none" stroke="#222" stroke-width="0.8"/>
<polygon points="90.60,271.83 95.40,271.83 93.00,276.03" fill="none" stroke="#222" stroke-width="0.8"/>
<polygon points="90.30,292.00 93.00,289.30 95.70,292.00 93.00,294.70" fill="none" stroke="#222" stroke-width="0.8"/>
<line x1="110.00" y1="266.25" x2="125.00" y2="266.25" stroke="#000" stroke-width="1.45" />
<line x1="117.50" y1="256.25" x2="117.50" y2="275.50" stroke="#000" stroke-width="1.45" />
<line x1="113.50" y1="256.25" x2="121.50" y2="256.25" stroke="#000" stroke-width="1.45" />
<line x1="113.50" y1="275.50" x2="121.50" y2="275.50" stroke="#000" stroke-width="1.45" />
<polygon points="115.10,238.08 119.90,238.08 117.50,242.28" fill="#000"/>
<polygon points="118.35,249.33 123.15,249.33 120.75,253.53" fill="#000"/>
<polygon points="112.10,256.42 116.90,256.42 114.50,252.22" fill="#000"/>
<polygon points="115.60,258.08 120.40,258.08 118.00,262.28" fill="#000"/>
<polygon points="111.35,298.17 116.15,298.17 113.75,293.97" fill="#000"/>
<polygon points="118.10,295.67 122.90,295.67 120.50,291.47" fill="#000"/>
<line x1="134.00" y1="215.50" x2="149.00" y2="215.50" stroke="#000" stroke-width="1.45" />
<line x1="141.50" y1="207.00" x2="141.50" y2="224.00" stroke="#000" stroke-width="1.45" />
<line x1="137.50" y1="207.00" x2="145.50" y2="207.00" stroke="#000" stroke-width="1.45" />
<line x1="137.50" y1="224.00" x2="145.50" y2="224.00" stroke="#000" stroke-width="1.45" />
<circle cx="142.00" cy="198.75" r="2.15" fill="none" stroke="#000" stroke-width="1.7"/>
<circle cx="138.25" cy="225.00" r="2.15" fill="none" stroke="#000" stroke-width="1.7"/>
<circle cx="145.00" cy="223.25" r="2.15" fill="none" stroke="#000" stroke-width="1.7"/>
<line x1="197.00" y1="233.82" x2="197.00" y2="301.18" stroke="#000" stroke-width="1.35" />
<line x1="195.30" y1="237.80" x2="197.00" y2="237.80" stroke="#000" stroke-width="0.7" />
<line x1="195.30" y1="241.10" x2="197.00" y2="241.10" stroke="#000" stroke-width="0.7" />
<line x1="195.30" y1="244.40" x2="197.00" y2="244.40" stroke="#000" stroke-width="0.7" />
<line x1="195.30" y1="247.70" x2="197.00" y2="247.70" stroke="#000" stroke-width="0.7" />
<line x1="195.30" y1="254.30" x2="197.00" y2="254.30" stroke="#000" stroke-width="0.7" />
<line x1="195.30" y1="257.60" x2="197.00" y2="257.60" stroke="#000" stroke-width="0.7" />
<line x1="195.30" y1="260.90" x2="197.00" y2="260.90" stroke="#000" stroke-width="0.7" />
<line x1="195.30" y1="264.20" x2="197.00" y2="264.20" stroke="#000" stroke-width="0.7" />
<line x1="195.30" y1="270.80" x2="197.00" y2="270.80" stroke="#000" stroke-width="0.7" />
<line x1="195.30" y1="274.10" x2="197.00" y2="274.10" stroke="#000" stroke-width="0.7" />
<line x1="195.30" y1="277.40" x2="197.00" y2="277.40" stroke="#000" stroke-width="0.7" />
<line x1="195.30" y1="280.70" x2="197.00" y2="280.70" stroke="#000" stroke-width="0.7" />
<line x1="195.30" y1="287.30" x2="197.00" y2="287.30" stroke="#000" stroke-width="0.7" />
<line x1="195.30" y1="290.60" x2="197.00" y2="290.60" stroke="#000" stroke-width="0.7" />
<line x1="195.30" y1="293.90" x2="197.00" y2="293.90" stroke="#000" stroke-width="0.7" />
<line x1="195.30" y1="297.20" x2="197.00" y2="297.20" stroke="#000" stroke-width="0.7" />
<line x1="194.00" y1="234.50" x2="197.00" y2="234.50" stroke="#000" stroke-width="1.35" />
<text x="193.00" y="237.38" font-size="8" font-weight="bold" text-anchor="end" fill="#000"  stroke="#000" stroke-width="0.18">800</text>
<line x1="194.00" y1="251.00" x2="197.00" y2="251.00" stroke="#000" stroke-width="1.35" />
<text x="193.00" y="253.88" font-size="8" font-weight="bold" text-anchor="end" fill="#000"  stroke="#000" stroke-width="0.18">600</text>
<line x1="194.00" y1="267.50" x2="197.00" y2="267.50" stroke="#000" stroke-width="1.35" />
<text x="193.00" y="270.38" font-size="8" font-weight="bold" text-anchor="end" fill="#000"  stroke="#000" stroke-width="0.18">400</text>
<line x1="194.00" y1="284.00" x2="197.00" y2="284.00" stroke="#000" stroke-width="1.35" />
<text x="193.00" y="286.88" font-size="8" font-weight="bold" text-anchor="end" fill="#000"  stroke="#000" stroke-width="0.18">200</text>
<line x1="194.00" y1="300.50" x2="197.00" y2="300.50" stroke="#000" stroke-width="1.35" />
<text x="193.00" y="303.38" font-size="8" font-weight="bold" text-anchor="end" fill="#000"  stroke="#000" stroke-width="0.18">0</text>
<line x1="197.00" y1="190.32" x2="197.00" y2="226.68" stroke="#000" stroke-width="1.35" />
<line x1="194.00" y1="191.00" x2="197.00" y2="191.00" stroke="#000" stroke-width="1.35" />
<text x="194.30" y="193.90" font-size="8" font-weight="bold" text-anchor="end" fill="#000"  stroke="#000" stroke-width="0.18">1<tspan font-size="6.5" dy="-0.3">×</tspan><tspan dy="0.3">10</tspan><tspan font-size="4.6" dy="-3.2" letter-spacing="1.6">06</tspan></text>
<line x1="194.00" y1="208.00" x2="197.00" y2="208.00" stroke="#000" stroke-width="1.35" />
<text x="194.30" y="210.90" font-size="8" font-weight="bold" text-anchor="end" fill="#000"  stroke="#000" stroke-width="0.18">5<tspan font-size="6.5" dy="-0.3">×</tspan><tspan dy="0.3">10</tspan><tspan font-size="4.6" dy="-3.2" letter-spacing="1.6">05</tspan></text>
<line x1="194.00" y1="226.00" x2="197.00" y2="226.00" stroke="#000" stroke-width="1.35" />
<line x1="195.40" y1="194.40" x2="197.00" y2="194.40" stroke="#000" stroke-width="0.7" />
<line x1="195.40" y1="197.80" x2="197.00" y2="197.80" stroke="#000" stroke-width="0.7" />
<line x1="195.40" y1="201.20" x2="197.00" y2="201.20" stroke="#000" stroke-width="0.7" />
<line x1="195.40" y1="204.60" x2="197.00" y2="204.60" stroke="#000" stroke-width="0.7" />
<line x1="195.40" y1="208.00" x2="197.00" y2="208.00" stroke="#000" stroke-width="0.7" />
<line x1="195.40" y1="211.40" x2="197.00" y2="211.40" stroke="#000" stroke-width="0.7" />
<line x1="195.40" y1="214.80" x2="197.00" y2="214.80" stroke="#000" stroke-width="0.7" />
<line x1="195.40" y1="218.20" x2="197.00" y2="218.20" stroke="#000" stroke-width="0.7" />
<line x1="195.40" y1="221.60" x2="197.00" y2="221.60" stroke="#000" stroke-width="0.7" />
<line x1="195.40" y1="225.00" x2="197.00" y2="225.00" stroke="#000" stroke-width="0.7" />
<line x1="196.32" y1="300.50" x2="293.00" y2="300.50" stroke="#000" stroke-width="1.35" />
<line x1="208.00" y1="300.50" x2="208.00" y2="303.50" stroke="#000" stroke-width="1.35" />
<text x="208.50" y="308.40" font-size="8.3" font-weight="bold" text-anchor="end" fill="#000" transform="rotate(-45 208.50 308.40)"  stroke="#000" stroke-width="0.18">NC</text>
<line x1="232.50" y1="300.50" x2="232.50" y2="303.50" stroke="#000" stroke-width="1.35" />
<text x="233.00" y="308.40" font-size="8.3" font-weight="bold" text-anchor="end" fill="#000" transform="rotate(-45 233.00 308.40)"  stroke="#000" stroke-width="0.18">V617I</text>
<line x1="257.00" y1="300.50" x2="257.00" y2="303.50" stroke="#000" stroke-width="1.35" />
<text x="257.50" y="308.40" font-size="8.3" font-weight="bold" text-anchor="end" fill="#000" transform="rotate(-45 257.50 308.40)"  stroke="#000" stroke-width="0.18">JAK2V617F+</text>
<line x1="280.50" y1="300.50" x2="280.50" y2="303.50" stroke="#000" stroke-width="1.35" />
<text x="281.00" y="308.40" font-size="8.3" font-weight="bold" text-anchor="end" fill="#000" transform="rotate(-45 281.00 308.40)"  stroke="#000" stroke-width="0.18">JAK2V617F+ MF</text>
<text x="246.00" y="197.00" font-size="9.1" font-weight="bold" text-anchor="middle" fill="#000"  stroke="#000" stroke-width="0.18">MEPs</text>
<text x="162.50" y="245.00" font-size="8.9" font-weight="bold" text-anchor="middle" fill="#000" transform="rotate(-90 162.50 245.00)"  stroke="#000" stroke-width="0.18">MEPs / mL</text>
<line x1="201.50" y1="295.00" x2="216.50" y2="295.00" stroke="#000" stroke-width="1.1" />
<line x1="209.00" y1="294.00" x2="209.00" y2="296.00" stroke="#000" stroke-width="1.1" />
<line x1="205.00" y1="294.00" x2="213.00" y2="294.00" stroke="#000" stroke-width="1.1" />
<line x1="205.00" y1="296.00" x2="213.00" y2="296.00" stroke="#000" stroke-width="1.1" />
<circle cx="208.75" cy="290.75" r="2.40" fill="#000"/>
<circle cx="206.25" cy="296.25" r="2.40" fill="#000"/>
<circle cx="210.00" cy="295.00" r="2.40" fill="#000"/>
<circle cx="212.00" cy="293.00" r="2.40" fill="#000"/>
<circle cx="208.00" cy="297.50" r="2.40" fill="#000"/>
<line x1="225.50" y1="294.25" x2="240.50" y2="294.25" stroke="#333" stroke-width="0.9" />
<line x1="233.00" y1="293.00" x2="233.00" y2="295.50" stroke="#333" stroke-width="0.9" />
<line x1="229.00" y1="293.00" x2="237.00" y2="293.00" stroke="#333" stroke-width="0.9" />
<line x1="229.00" y1="295.50" x2="237.00" y2="295.50" stroke="#333" stroke-width="0.9" />
<rect x="234.15" y="289.15" width="4.20" height="4.20" fill="none" stroke="#222" stroke-width="0.8"/>
<polygon points="227.60,295.17 232.40,295.17 230.00,290.97" fill="none" stroke="#222" stroke-width="0.8"/>
<polygon points="230.60,292.58 235.40,292.58 233.00,296.78" fill="none" stroke="#222" stroke-width="0.8"/>
<polygon points="228.05,297.00 230.75,294.30 233.45,297.00 230.75,299.70" fill="none" stroke="#222" stroke-width="0.8"/>
<line x1="249.70" y1="286.25" x2="264.70" y2="286.25" stroke="#000" stroke-width="1.45" />
<line x1="257.20" y1="276.75" x2="257.20" y2="296.00" stroke="#000" stroke-width="1.45" />
<line x1="253.20" y1="276.75" x2="261.20" y2="276.75" stroke="#000" stroke-width="1.45" />
<line x1="253.20" y1="296.00" x2="261.20" y2="296.00" stroke="#000" stroke-width="1.45" />
<polygon points="254.35,237.33 259.15,237.33 256.75,241.53" fill="#000"/>
<polygon points="250.40,296.92 255.20,296.92 252.80,292.72" fill="#000"/>
<polygon points="254.60,297.42 259.40,297.42 257.00,293.22" fill="#000"/>
<polygon points="258.90,296.92 263.70,296.92 261.30,292.72" fill="#000"/>
<polygon points="254.60,300.12 259.40,300.12 257.00,295.92" fill="#000"/>
<line x1="273.80" y1="218.00" x2="288.80" y2="218.00" stroke="#000" stroke-width="1.45" />
<line x1="281.30" y1="210.00" x2="281.30" y2="226.00" stroke="#000" stroke-width="1.45" />
<line x1="277.30" y1="210.00" x2="285.30" y2="210.00" stroke="#000" stroke-width="1.45" />
<line x1="277.30" y1="226.00" x2="285.30" y2="226.00" stroke="#000" stroke-width="1.45" />
<circle cx="281.25" cy="201.25" r="2.15" fill="none" stroke="#000" stroke-width="1.7"/>
<circle cx="278.00" cy="225.75" r="2.15" fill="none" stroke="#000" stroke-width="1.7"/>
<circle cx="284.25" cy="225.75" r="2.15" fill="none" stroke="#000" stroke-width="1.7"/>
<line x1="340.00" y1="233.82" x2="340.00" y2="301.18" stroke="#000" stroke-width="1.35" />
<line x1="338.30" y1="241.10" x2="340.00" y2="241.10" stroke="#000" stroke-width="0.7" />
<line x1="338.30" y1="247.70" x2="340.00" y2="247.70" stroke="#000" stroke-width="0.7" />
<line x1="338.30" y1="254.30" x2="340.00" y2="254.30" stroke="#000" stroke-width="0.7" />
<line x1="338.30" y1="260.90" x2="340.00" y2="260.90" stroke="#000" stroke-width="0.7" />
<line x1="338.30" y1="274.10" x2="340.00" y2="274.10" stroke="#000" stroke-width="0.7" />
<line x1="338.30" y1="280.70" x2="340.00" y2="280.70" stroke="#000" stroke-width="0.7" />
<line x1="338.30" y1="287.30" x2="340.00" y2="287.30" stroke="#000" stroke-width="0.7" />
<line x1="338.30" y1="293.90" x2="340.00" y2="293.90" stroke="#000" stroke-width="0.7" />
<line x1="337.00" y1="234.50" x2="340.00" y2="234.50" stroke="#000" stroke-width="1.35" />
<text x="336.00" y="237.38" font-size="8" font-weight="bold" text-anchor="end" fill="#000"  stroke="#000" stroke-width="0.18">4000</text>
<line x1="337.00" y1="267.50" x2="340.00" y2="267.50" stroke="#000" stroke-width="1.35" />
<text x="336.00" y="270.38" font-size="8" font-weight="bold" text-anchor="end" fill="#000"  stroke="#000" stroke-width="0.18">2000</text>
<line x1="337.00" y1="300.50" x2="340.00" y2="300.50" stroke="#000" stroke-width="1.35" />
<text x="336.00" y="303.38" font-size="8" font-weight="bold" text-anchor="end" fill="#000"  stroke="#000" stroke-width="0.18">0</text>
<line x1="340.00" y1="190.32" x2="340.00" y2="226.68" stroke="#000" stroke-width="1.35" />
<line x1="337.00" y1="191.00" x2="340.00" y2="191.00" stroke="#000" stroke-width="1.35" />
<text x="337.30" y="193.90" font-size="8" font-weight="bold" text-anchor="end" fill="#000"  stroke="#000" stroke-width="0.18">1<tspan font-size="6.5" dy="-0.3">×</tspan><tspan dy="0.3">10</tspan><tspan font-size="4.6" dy="-3.2" letter-spacing="1.6">07</tspan></text>
<line x1="337.00" y1="208.00" x2="340.00" y2="208.00" stroke="#000" stroke-width="1.35" />
<text x="337.30" y="210.90" font-size="8" font-weight="bold" text-anchor="end" fill="#000"  stroke="#000" stroke-width="0.18">5<tspan font-size="6.5" dy="-0.3">×</tspan><tspan dy="0.3">10</tspan><tspan font-size="4.6" dy="-3.2" letter-spacing="1.6">06</tspan></text>
<line x1="337.00" y1="226.00" x2="340.00" y2="226.00" stroke="#000" stroke-width="1.35" />
<line x1="338.40" y1="194.40" x2="340.00" y2="194.40" stroke="#000" stroke-width="0.7" />
<line x1="338.40" y1="197.80" x2="340.00" y2="197.80" stroke="#000" stroke-width="0.7" />
<line x1="338.40" y1="201.20" x2="340.00" y2="201.20" stroke="#000" stroke-width="0.7" />
<line x1="338.40" y1="204.60" x2="340.00" y2="204.60" stroke="#000" stroke-width="0.7" />
<line x1="338.40" y1="208.00" x2="340.00" y2="208.00" stroke="#000" stroke-width="0.7" />
<line x1="338.40" y1="211.40" x2="340.00" y2="211.40" stroke="#000" stroke-width="0.7" />
<line x1="338.40" y1="214.80" x2="340.00" y2="214.80" stroke="#000" stroke-width="0.7" />
<line x1="338.40" y1="218.20" x2="340.00" y2="218.20" stroke="#000" stroke-width="0.7" />
<line x1="338.40" y1="221.60" x2="340.00" y2="221.60" stroke="#000" stroke-width="0.7" />
<line x1="338.40" y1="225.00" x2="340.00" y2="225.00" stroke="#000" stroke-width="0.7" />
<line x1="339.32" y1="300.50" x2="435.00" y2="300.50" stroke="#000" stroke-width="1.35" />
<line x1="352.00" y1="300.50" x2="352.00" y2="303.50" stroke="#000" stroke-width="1.35" />
<text x="352.50" y="308.40" font-size="8.3" font-weight="bold" text-anchor="end" fill="#000" transform="rotate(-45 352.50 308.40)"  stroke="#000" stroke-width="0.18">NC</text>
<line x1="376.00" y1="300.50" x2="376.00" y2="303.50" stroke="#000" stroke-width="1.35" />
<text x="376.50" y="308.40" font-size="8.3" font-weight="bold" text-anchor="end" fill="#000" transform="rotate(-45 376.50 308.40)"  stroke="#000" stroke-width="0.18">V617I</text>
<line x1="400.00" y1="300.50" x2="400.00" y2="303.50" stroke="#000" stroke-width="1.35" />
<text x="400.50" y="308.40" font-size="8.3" font-weight="bold" text-anchor="end" fill="#000" transform="rotate(-45 400.50 308.40)"  stroke="#000" stroke-width="0.18">JAK2V617F+</text>
<line x1="424.00" y1="300.50" x2="424.00" y2="303.50" stroke="#000" stroke-width="1.35" />
<text x="424.50" y="308.40" font-size="8.3" font-weight="bold" text-anchor="end" fill="#000" transform="rotate(-45 424.50 308.40)"  stroke="#000" stroke-width="0.18">JAK2V617F+ MF</text>
<text x="387.00" y="197.00" font-size="9.1" font-weight="bold" text-anchor="middle" fill="#000"  stroke="#000" stroke-width="0.18">CMPs</text>
<text x="304.00" y="245.00" font-size="8.9" font-weight="bold" text-anchor="middle" fill="#000" transform="rotate(-90 304.00 245.00)"  stroke="#000" stroke-width="0.18">CMPs / mL</text>
<line x1="344.30" y1="288.75" x2="359.30" y2="288.75" stroke="#000" stroke-width="1.1" />
<line x1="351.80" y1="284.50" x2="351.80" y2="293.00" stroke="#000" stroke-width="1.1" />
<line x1="347.80" y1="284.50" x2="355.80" y2="284.50" stroke="#000" stroke-width="1.1" />
<line x1="347.80" y1="293.00" x2="355.80" y2="293.00" stroke="#000" stroke-width="1.1" />
<circle cx="351.75" cy="273.25" r="2.40" fill="#000"/>
<circle cx="349.25" cy="291.75" r="2.40" fill="#000"/>
<circle cx="354.50" cy="290.50" r="2.40" fill="#000"/>
<circle cx="350.00" cy="295.00" r="2.40" fill="#000"/>
<circle cx="353.00" cy="293.00" r="2.40" fill="#000"/>
<line x1="368.70" y1="272.00" x2="383.70" y2="272.00" stroke="#333" stroke-width="0.9" />
<line x1="376.20" y1="262.00" x2="376.20" y2="281.75" stroke="#333" stroke-width="0.9" />
<line x1="372.20" y1="262.00" x2="380.20" y2="262.00" stroke="#333" stroke-width="0.9" />
<line x1="372.20" y1="281.75" x2="380.20" y2="281.75" stroke="#333" stroke-width="0.9" />
<polygon points="373.85,249.42 378.65,249.42 376.25,245.22" fill="none" stroke="#222" stroke-width="0.8"/>
<rect x="374.15" y="262.40" width="4.20" height="4.20" fill="none" stroke="#222" stroke-width="0.8"/>
<polygon points="373.35,281.08 378.15,281.08 375.75,285.28" fill="none" stroke="#222" stroke-width="0.8"/>
<polygon points="373.05,293.00 375.75,290.30 378.45,293.00 375.75,295.70" fill="none" stroke="#222" stroke-width="0.8"/>
<line x1="392.70" y1="276.75" x2="407.70" y2="276.75" stroke="#000" stroke-width="1.45" />
<line x1="400.20" y1="265.50" x2="400.20" y2="287.50" stroke="#000" stroke-width="1.45" />
<line x1="396.20" y1="265.50" x2="404.20" y2="265.50" stroke="#000" stroke-width="1.45" />
<line x1="396.20" y1="287.50" x2="404.20" y2="287.50" stroke="#000" stroke-width="1.45" />
<polygon points="397.60,233.58 402.40,233.58 400.00,237.78" fill="#000"/>
<polygon points="397.60,246.08 402.40,246.08 400.00,250.28" fill="#000"/>
<polygon points="397.60,286.17 402.40,286.17 400.00,281.97" fill="#000"/>
<polygon points="393.10,296.92 397.90,296.92 395.50,292.72" fill="#000"/>
<polygon points="398.10,298.92 402.90,298.92 400.50,294.72" fill="#000"/>
<polygon points="402.60,298.67 407.40,298.67 405.00,294.47" fill="#000"/>
<line x1="416.50" y1="217.50" x2="431.50" y2="217.50" stroke="#000" stroke-width="1.45" />
<line x1="424.00" y1="209.50" x2="424.00" y2="225.50" stroke="#000" stroke-width="1.45" />
<line x1="420.00" y1="209.50" x2="428.00" y2="209.50" stroke="#000" stroke-width="1.45" />
<line x1="420.00" y1="225.50" x2="428.00" y2="225.50" stroke="#000" stroke-width="1.45" />
<circle cx="423.75" cy="202.00" r="2.15" fill="none" stroke="#000" stroke-width="1.7"/>
<circle cx="420.75" cy="225.50" r="2.15" fill="none" stroke="#000" stroke-width="1.7"/>
<circle cx="427.00" cy="225.50" r="2.15" fill="none" stroke="#000" stroke-width="1.7"/>
<polygon points="445.12,129.00 448.50,125.62 451.88,129.00 448.50,132.38" fill="none" stroke="#000" stroke-width="1.0"/>
<text x="457.30" y="132.20" font-size="8.8" font-weight="bold" text-anchor="start" fill="#000"  stroke="#000" stroke-width="0.18">C1</text>
<polygon points="445.50,143.20 451.50,143.20 448.50,148.45" fill="none" stroke="#000" stroke-width="1.0"/>
<text x="457.30" y="148.80" font-size="8.8" font-weight="bold" text-anchor="start" fill="#000"  stroke="#000" stroke-width="0.18">C2</text>
<polygon points="445.50,163.10 451.50,163.10 448.50,157.85" fill="none" stroke="#000" stroke-width="1.0"/>
<text x="457.30" y="163.90" font-size="8.8" font-weight="bold" text-anchor="start" fill="#000"  stroke="#000" stroke-width="0.18">C3</text>
<rect x="445.88" y="172.88" width="5.25" height="5.25" fill="none" stroke="#000" stroke-width="1.0"/>
<text x="457.30" y="178.70" font-size="8.8" font-weight="bold" text-anchor="start" fill="#000"  stroke="#000" stroke-width="0.18">C4</text>
<circle cx="448.50" cy="193.50" r="3.00" fill="#000"/>
<text x="456.50" y="196.70" font-size="8.8" font-weight="bold" text-anchor="start" fill="#000"  stroke="#000" stroke-width="0.18">NC</text>
<rect x="445.46" y="205.56" width="6.07" height="6.07" fill="#000"/>
<text x="456.50" y="211.80" font-size="8.8" font-weight="bold" text-anchor="start" fill="#000"  stroke="#000" stroke-width="0.18">C5</text>
<polygon points="445.50,225.80 451.50,225.80 448.50,220.55" fill="#000"/>
<text x="456.50" y="226.60" font-size="8.8" font-weight="bold" text-anchor="start" fill="#000"  stroke="#000" stroke-width="0.18">ET</text>
<polygon points="445.50,236.60 451.50,236.60 448.50,241.85" fill="#000"/>
<text x="456.50" y="242.20" font-size="8.8" font-weight="bold" text-anchor="start" fill="#000"  stroke="#000" stroke-width="0.18">PV</text>
<circle cx="448.50" cy="254.80" r="2.26" fill="none" stroke="#000" stroke-width="1.7"/>
<text x="456.50" y="258.00" font-size="8.8" font-weight="bold" text-anchor="start" fill="#000"  stroke="#000" stroke-width="0.18">MF</text>
<text x="0.40" y="371.70" font-size="12" font-weight="bold" text-anchor="start" fill="#000" stroke="#000" stroke-width="0.35">B</text>
<line x1="43.00" y1="381.45" x2="43.00" y2="481.30" stroke="#000" stroke-width="1.1" />
<line x1="40.50" y1="382.00" x2="43.00" y2="382.00" stroke="#000" stroke-width="1.1" />
<text x="39.80" y="384.52" font-size="7.0" font-weight="bold" text-anchor="end" fill="#000"  stroke="#000" stroke-width="0.18">60</text>
<line x1="40.50" y1="414.92" x2="43.00" y2="414.92" stroke="#000" stroke-width="1.1" />
<text x="39.80" y="417.44" font-size="7.0" font-weight="bold" text-anchor="end" fill="#000"  stroke="#000" stroke-width="0.18">40</text>
<line x1="40.50" y1="447.83" x2="43.00" y2="447.83" stroke="#000" stroke-width="1.1" />
<text x="39.80" y="450.35" font-size="7.0" font-weight="bold" text-anchor="end" fill="#000"  stroke="#000" stroke-width="0.18">20</text>
<line x1="40.50" y1="480.75" x2="43.00" y2="480.75" stroke="#000" stroke-width="1.1" />
<text x="39.80" y="483.27" font-size="7.0" font-weight="bold" text-anchor="end" fill="#000"  stroke="#000" stroke-width="0.18">0</text>
<line x1="42.45" y1="480.75" x2="128.00" y2="480.75" stroke="#000" stroke-width="1.1" />
<line x1="64.50" y1="480.75" x2="64.50" y2="483.75" stroke="#000" stroke-width="1.1" />
<text x="65.50" y="488.75" font-size="7.0" font-weight="bold" text-anchor="end" fill="#000" transform="rotate(-45 65.50 488.75)"  stroke="#000" stroke-width="0.18">NC</text>
<line x1="107.00" y1="480.75" x2="107.00" y2="483.75" stroke="#000" stroke-width="1.1" />
<text x="108.00" y="488.75" font-size="7.0" font-weight="bold" text-anchor="end" fill="#000" transform="rotate(-45 108.00 488.75)"  stroke="#000" stroke-width="0.18">V617I</text>
<text x="93.00" y="375.80" font-size="9.1" font-weight="bold" text-anchor="middle" fill="#000"  stroke="#000" stroke-width="0.18">Phenotypic HSCs</text>
<text x="27.70" y="431.50" font-size="8.2" font-weight="bold" text-anchor="middle" fill="#000" transform="rotate(-90 27.70 431.50)"  stroke="#000" stroke-width="0.18">% of CD34+ cells</text>
<line x1="50.70" y1="466.25" x2="78.70" y2="466.25" stroke="#222" stroke-width="0.9" />
<line x1="64.70" y1="462.50" x2="64.70" y2="469.25" stroke="#222" stroke-width="0.9" />
<line x1="58.20" y1="462.50" x2="71.20" y2="462.50" stroke="#222" stroke-width="0.9" />
<line x1="58.20" y1="469.25" x2="71.20" y2="469.25" stroke="#222" stroke-width="0.9" />
<circle cx="64.50" cy="444.25" r="2.28" fill="#000"/>
<circle cx="56.25" cy="463.25" r="2.28" fill="#000"/>
<circle cx="60.75" cy="467.00" r="2.28" fill="#000"/>
<circle cx="67.50" cy="467.50" r="2.28" fill="#000"/>
<circle cx="73.25" cy="466.25" r="2.28" fill="#000"/>
<circle cx="58.75" cy="471.75" r="2.28" fill="#000"/>
<circle cx="70.00" cy="471.75" r="2.28" fill="#000"/>
<circle cx="64.50" cy="475.00" r="2.28" fill="#000"/>
<line x1="93.00" y1="445.50" x2="121.00" y2="445.50" stroke="#555" stroke-width="0.9" />
<line x1="107.00" y1="427.50" x2="107.00" y2="463.25" stroke="#555" stroke-width="0.9" />
<line x1="100.50" y1="427.50" x2="113.50" y2="427.50" stroke="#555" stroke-width="0.9" />
<line x1="100.50" y1="463.25" x2="113.50" y2="463.25" stroke="#555" stroke-width="0.9" />
<polygon points="104.44,393.00 107.00,390.44 109.56,393.00 107.00,395.56" fill="none" stroke="#333" stroke-width="0.8"/>
<rect x="105.00" y="452.50" width="3.99" height="3.99" fill="none" stroke="#333" stroke-width="0.8"/>
<polygon points="101.97,466.43 106.53,466.43 104.25,470.42" fill="none" stroke="#333" stroke-width="0.8"/>
<polygon points="107.72,468.82 112.28,468.82 110.00,464.83" fill="none" stroke="#333" stroke-width="0.8"/>
<line x1="161.00" y1="383.95" x2="161.00" y2="480.05" stroke="#000" stroke-width="1.1" />
<line x1="158.50" y1="384.50" x2="161.00" y2="384.50" stroke="#000" stroke-width="1.1" />
<text x="157.80" y="387.02" font-size="7.0" font-weight="bold" text-anchor="end" fill="#000"  stroke="#000" stroke-width="0.18">15</text>
<line x1="158.50" y1="416.17" x2="161.00" y2="416.17" stroke="#000" stroke-width="1.1" />
<text x="157.80" y="418.69" font-size="7.0" font-weight="bold" text-anchor="end" fill="#000"  stroke="#000" stroke-width="0.18">10</text>
<line x1="158.50" y1="447.83" x2="161.00" y2="447.83" stroke="#000" stroke-width="1.1" />
<text x="157.80" y="450.35" font-size="7.0" font-weight="bold" text-anchor="end" fill="#000"  stroke="#000" stroke-width="0.18">5</text>
<line x1="158.50" y1="479.50" x2="161.00" y2="479.50" stroke="#000" stroke-width="1.1" />
<text x="157.80" y="482.02" font-size="7.0" font-weight="bold" text-anchor="end" fill="#000"  stroke="#000" stroke-width="0.18">0</text>
<line x1="160.45" y1="479.50" x2="245.50" y2="479.50" stroke="#000" stroke-width="1.1" />
<line x1="182.00" y1="479.50" x2="182.00" y2="482.50" stroke="#000" stroke-width="1.1" />
<text x="183.00" y="487.50" font-size="7.0" font-weight="bold" text-anchor="end" fill="#000" transform="rotate(-45 183.00 487.50)"  stroke="#000" stroke-width="0.18">NC</text>
<line x1="224.50" y1="479.50" x2="224.50" y2="482.50" stroke="#000" stroke-width="1.1" />
<text x="225.50" y="487.50" font-size="7.0" font-weight="bold" text-anchor="end" fill="#000" transform="rotate(-45 225.50 487.50)"  stroke="#000" stroke-width="0.18">V617I</text>
<text x="206.00" y="375.80" font-size="9.1" font-weight="bold" text-anchor="middle" fill="#000"  stroke="#000" stroke-width="0.18">MPP</text>
<text x="145.00" y="431.50" font-size="7.8" font-weight="bold" text-anchor="middle" fill="#000" transform="rotate(-90 145.00 431.50)"  stroke="#000" stroke-width="0.18">% of CD34+ cells</text>
<line x1="168.20" y1="445.50" x2="196.20" y2="445.50" stroke="#222" stroke-width="0.9" />
<line x1="182.20" y1="440.00" x2="182.20" y2="451.25" stroke="#222" stroke-width="0.9" />
<line x1="175.70" y1="440.00" x2="188.70" y2="440.00" stroke="#222" stroke-width="0.9" />
<line x1="175.70" y1="451.25" x2="188.70" y2="451.25" stroke="#222" stroke-width="0.9" />
<circle cx="182.00" cy="424.50" r="2.28" fill="#000"/>
<circle cx="178.75" cy="433.75" r="2.28" fill="#000"/>
<circle cx="182.50" cy="433.00" r="2.28" fill="#000"/>
<circle cx="185.00" cy="440.00" r="2.28" fill="#000"/>
<circle cx="182.00" cy="445.75" r="2.28" fill="#000"/>
<circle cx="182.00" cy="453.75" r="2.28" fill="#000"/>
<circle cx="179.50" cy="469.25" r="2.28" fill="#000"/>
<circle cx="185.00" cy="466.25" r="2.28" fill="#000"/>
<line x1="210.60" y1="449.50" x2="238.60" y2="449.50" stroke="#555" stroke-width="0.9" />
<line x1="224.60" y1="439.25" x2="224.60" y2="460.75" stroke="#555" stroke-width="0.9" />
<line x1="218.10" y1="439.25" x2="231.10" y2="439.25" stroke="#555" stroke-width="0.9" />
<line x1="218.10" y1="460.75" x2="231.10" y2="460.75" stroke="#555" stroke-width="0.9" />
<polygon points="221.94,418.25 224.50,415.69 227.06,418.25 224.50,420.81" fill="none" stroke="#333" stroke-width="0.8"/>
<rect x="219.75" y="453.75" width="3.99" height="3.99" fill="none" stroke="#333" stroke-width="0.8"/>
<polygon points="225.22,461.32 229.78,461.32 227.50,457.33" fill="none" stroke="#333" stroke-width="0.8"/>
<polygon points="222.22,463.93 226.78,463.93 224.50,467.92" fill="none" stroke="#333" stroke-width="0.8"/>
<polygon points="262.19,400.40 265.30,397.29 268.41,400.40 265.30,403.50" fill="none" stroke="#111" stroke-width="1.1"/>
<text x="272.90" y="402.80" font-size="6.8" font-weight="normal" text-anchor="start" fill="#111" stroke="#111" stroke-width="0.28">C1</text>
<polygon points="262.54,412.19 268.06,412.19 265.30,417.02" fill="none" stroke="#111" stroke-width="1.1"/>
<text x="272.90" y="416.80" font-size="6.8" font-weight="normal" text-anchor="start" fill="#111" stroke="#111" stroke-width="0.28">C2</text>
<polygon points="262.54,430.11 268.06,430.11 265.30,425.28" fill="none" stroke="#111" stroke-width="1.1"/>
<text x="272.90" y="430.30" font-size="6.8" font-weight="normal" text-anchor="start" fill="#111" stroke="#111" stroke-width="0.28">C3</text>
<rect x="262.88" y="438.73" width="4.83" height="4.83" fill="none" stroke="#111" stroke-width="1.1"/>
<text x="272.90" y="443.55" font-size="6.8" font-weight="normal" text-anchor="start" fill="#111" stroke="#111" stroke-width="0.28">C4</text>
<circle cx="265.30" cy="456.40" r="2.76" fill="#111"/>
<text x="272.90" y="458.80" font-size="6.8" font-weight="normal" text-anchor="start" fill="#111" stroke="#111" stroke-width="0.28">NC</text>
<line x1="23.75" y1="517.45" x2="23.75" y2="613.05" stroke="#000" stroke-width="1.1" />
<line x1="21.25" y1="518.00" x2="23.75" y2="518.00" stroke="#000" stroke-width="1.1" />
<text x="20.55" y="520.52" font-size="7.0" font-weight="bold" text-anchor="end" fill="#000"  stroke="#000" stroke-width="0.18">60</text>
<line x1="21.25" y1="549.50" x2="23.75" y2="549.50" stroke="#000" stroke-width="1.1" />
<text x="20.55" y="552.02" font-size="7.0" font-weight="bold" text-anchor="end" fill="#000"  stroke="#000" stroke-width="0.18">40</text>
<line x1="21.25" y1="581.00" x2="23.75" y2="581.00" stroke="#000" stroke-width="1.1" />
<text x="20.55" y="583.52" font-size="7.0" font-weight="bold" text-anchor="end" fill="#000"  stroke="#000" stroke-width="0.18">20</text>
<line x1="21.25" y1="612.50" x2="23.75" y2="612.50" stroke="#000" stroke-width="1.1" />
<text x="20.55" y="615.02" font-size="7.0" font-weight="bold" text-anchor="end" fill="#000"  stroke="#000" stroke-width="0.18">0</text>
<line x1="23.20" y1="612.50" x2="107.50" y2="612.50" stroke="#000" stroke-width="1.1" />
<line x1="45.50" y1="612.50" x2="45.50" y2="615.50" stroke="#000" stroke-width="1.1" />
<text x="46.50" y="620.50" font-size="7.0" font-weight="bold" text-anchor="end" fill="#000" transform="rotate(-45 46.50 620.50)"  stroke="#000" stroke-width="0.18">NC</text>
<line x1="87.00" y1="612.50" x2="87.00" y2="615.50" stroke="#000" stroke-width="1.1" />
<text x="88.00" y="620.50" font-size="7.0" font-weight="bold" text-anchor="end" fill="#000" transform="rotate(-45 88.00 620.50)"  stroke="#000" stroke-width="0.18">V617I</text>
<text x="69.00" y="516.00" font-size="9.1" font-weight="bold" text-anchor="middle" fill="#000"  stroke="#000" stroke-width="0.18">CMP</text>
<text x="8.00" y="565.30" font-size="7.8" font-weight="bold" text-anchor="middle" fill="#000" transform="rotate(-90 8.00 565.30)"  stroke="#000" stroke-width="0.18">% of CD34+ cells</text>
<line x1="31.30" y1="542.75" x2="59.30" y2="542.75" stroke="#222" stroke-width="0.9" />
<line x1="45.30" y1="540.00" x2="45.30" y2="546.25" stroke="#222" stroke-width="0.9" />
<line x1="38.80" y1="540.00" x2="51.80" y2="540.00" stroke="#222" stroke-width="0.9" />
<line x1="38.80" y1="546.25" x2="51.80" y2="546.25" stroke="#222" stroke-width="0.9" />
<circle cx="42.50" cy="530.25" r="1.97" fill="#000"/>
<circle cx="48.00" cy="532.00" r="1.97" fill="#000"/>
<circle cx="46.25" cy="540.25" r="1.97" fill="#000"/>
<circle cx="42.50" cy="542.00" r="1.97" fill="#000"/>
<circle cx="48.00" cy="542.75" r="1.97" fill="#000"/>
<circle cx="45.00" cy="547.50" r="1.97" fill="#000"/>
<circle cx="48.00" cy="550.25" r="1.97" fill="#000"/>
<circle cx="42.50" cy="556.25" r="1.97" fill="#000"/>
<line x1="73.00" y1="546.50" x2="101.00" y2="546.50" stroke="#777" stroke-width="1.1" />
<line x1="87.00" y1="535.25" x2="87.00" y2="557.75" stroke="#777" stroke-width="1.1" />
<line x1="80.50" y1="535.25" x2="93.50" y2="535.25" stroke="#777" stroke-width="1.1" />
<line x1="80.50" y1="557.75" x2="93.50" y2="557.75" stroke="#777" stroke-width="1.1" />
<polygon points="85.03,530.32 88.97,530.32 87.00,526.88" fill="none" stroke="#333" stroke-width="0.8"/>
<polygon points="85.03,533.43 88.97,533.43 87.00,536.87" fill="none" stroke="#333" stroke-width="0.8"/>
<rect x="85.28" y="541.53" width="3.44" height="3.44" fill="none" stroke="#333" stroke-width="0.8"/>
<polygon points="84.79,578.75 87.00,576.54 89.21,578.75 87.00,580.96" fill="none" stroke="#333" stroke-width="0.8"/>
<line x1="132.00" y1="520.95" x2="132.00" y2="613.05" stroke="#000" stroke-width="1.1" />
<line x1="129.50" y1="521.50" x2="132.00" y2="521.50" stroke="#000" stroke-width="1.1" />
<text x="128.80" y="523.98" font-size="6.9" font-weight="bold" text-anchor="end" fill="#000"  stroke="#000" stroke-width="0.18">40</text>
<line x1="129.50" y1="544.25" x2="132.00" y2="544.25" stroke="#000" stroke-width="1.1" />
<text x="128.80" y="546.73" font-size="6.9" font-weight="bold" text-anchor="end" fill="#000"  stroke="#000" stroke-width="0.18">30</text>
<line x1="129.50" y1="567.00" x2="132.00" y2="567.00" stroke="#000" stroke-width="1.1" />
<text x="128.80" y="569.48" font-size="6.9" font-weight="bold" text-anchor="end" fill="#000"  stroke="#000" stroke-width="0.18">20</text>
<line x1="129.50" y1="589.75" x2="132.00" y2="589.75" stroke="#000" stroke-width="1.1" />
<text x="128.80" y="592.23" font-size="6.9" font-weight="bold" text-anchor="end" fill="#000"  stroke="#000" stroke-width="0.18">10</text>
<line x1="129.50" y1="612.50" x2="132.00" y2="612.50" stroke="#000" stroke-width="1.1" />
<text x="128.80" y="614.98" font-size="6.9" font-weight="bold" text-anchor="end" fill="#000"  stroke="#000" stroke-width="0.18">0</text>
<line x1="131.45" y1="612.50" x2="213.75" y2="612.50" stroke="#000" stroke-width="1.1" />
<line x1="152.00" y1="612.50" x2="152.00" y2="615.50" stroke="#000" stroke-width="1.1" />
<text x="153.00" y="620.50" font-size="6.9" font-weight="bold" text-anchor="end" fill="#000" transform="rotate(-45 153.00 620.50)"  stroke="#000" stroke-width="0.18">NC</text>
<line x1="193.00" y1="612.50" x2="193.00" y2="615.50" stroke="#000" stroke-width="1.1" />
<text x="194.00" y="620.50" font-size="6.9" font-weight="bold" text-anchor="end" fill="#000" transform="rotate(-45 194.00 620.50)"  stroke="#000" stroke-width="0.18">V617I</text>
<text x="178.00" y="517.00" font-size="9.1" font-weight="bold" text-anchor="middle" fill="#000"  stroke="#000" stroke-width="0.18">GMP</text>
<text x="116.50" y="566.70" font-size="7.6" font-weight="bold" text-anchor="middle" fill="#000" transform="rotate(-90 116.50 566.70)"  stroke="#000" stroke-width="0.18">% of CD34+ cells</text>
<line x1="138.70" y1="540.50" x2="166.70" y2="540.50" stroke="#222" stroke-width="0.9" />
<line x1="152.70" y1="538.25" x2="152.70" y2="542.75" stroke="#222" stroke-width="0.9" />
<line x1="146.20" y1="538.25" x2="159.20" y2="538.25" stroke="#222" stroke-width="0.9" />
<line x1="146.20" y1="542.75" x2="159.20" y2="542.75" stroke="#222" stroke-width="0.9" />
<circle cx="152.50" cy="527.00" r="1.97" fill="#000"/>
<circle cx="152.50" cy="533.25" r="1.97" fill="#000"/>
<circle cx="144.50" cy="539.00" r="1.97" fill="#000"/>
<circle cx="160.75" cy="540.00" r="1.97" fill="#000"/>
<circle cx="149.50" cy="542.00" r="1.97" fill="#000"/>
<circle cx="156.25" cy="542.50" r="1.97" fill="#000"/>
<circle cx="150.00" cy="549.50" r="1.97" fill="#000"/>
<circle cx="155.00" cy="549.00" r="1.97" fill="#000"/>
<line x1="179.20" y1="567.00" x2="207.20" y2="567.00" stroke="#555" stroke-width="0.9" />
<line x1="193.20" y1="557.75" x2="193.20" y2="575.75" stroke="#555" stroke-width="0.9" />
<line x1="186.70" y1="557.75" x2="199.70" y2="557.75" stroke="#555" stroke-width="0.9" />
<line x1="186.70" y1="575.75" x2="199.70" y2="575.75" stroke="#555" stroke-width="0.9" />
<rect x="191.53" y="552.03" width="3.44" height="3.44" fill="none" stroke="#333" stroke-width="0.8"/>
<polygon points="188.03,556.18 191.97,556.18 190.00,559.62" fill="none" stroke="#333" stroke-width="0.8"/>
<polygon points="193.78,564.07 197.72,564.07 195.75,560.63" fill="none" stroke="#333" stroke-width="0.8"/>
<polygon points="191.04,592.00 193.25,589.79 195.46,592.00 193.25,594.21" fill="none" stroke="#333" stroke-width="0.8"/>
<line x1="236.75" y1="522.45" x2="236.75" y2="613.55" stroke="#000" stroke-width="1.1" />
<line x1="234.25" y1="523.00" x2="236.75" y2="523.00" stroke="#000" stroke-width="1.1" />
<text x="233.55" y="525.34" font-size="6.5" font-weight="bold" text-anchor="end" fill="#000"  stroke="#000" stroke-width="0.18">20</text>
<line x1="234.25" y1="545.50" x2="236.75" y2="545.50" stroke="#000" stroke-width="1.1" />
<text x="233.55" y="547.84" font-size="6.5" font-weight="bold" text-anchor="end" fill="#000"  stroke="#000" stroke-width="0.18">15</text>
<line x1="234.25" y1="568.00" x2="236.75" y2="568.00" stroke="#000" stroke-width="1.1" />
<text x="233.55" y="570.34" font-size="6.5" font-weight="bold" text-anchor="end" fill="#000"  stroke="#000" stroke-width="0.18">10</text>
<line x1="234.25" y1="590.50" x2="236.75" y2="590.50" stroke="#000" stroke-width="1.1" />
<text x="233.55" y="592.84" font-size="6.5" font-weight="bold" text-anchor="end" fill="#000"  stroke="#000" stroke-width="0.18">5</text>
<line x1="234.25" y1="613.00" x2="236.75" y2="613.00" stroke="#000" stroke-width="1.1" />
<text x="233.55" y="615.34" font-size="6.5" font-weight="bold" text-anchor="end" fill="#000"  stroke="#000" stroke-width="0.18">0</text>
<line x1="236.20" y1="613.00" x2="318.00" y2="613.00" stroke="#000" stroke-width="1.1" />
<line x1="257.00" y1="613.00" x2="257.00" y2="616.00" stroke="#000" stroke-width="1.1" />
<text x="258.00" y="621.00" font-size="6.5" font-weight="bold" text-anchor="end" fill="#000" transform="rotate(-45 258.00 621.00)"  stroke="#000" stroke-width="0.18">NC</text>
<line x1="298.00" y1="613.00" x2="298.00" y2="616.00" stroke="#000" stroke-width="1.1" />
<text x="299.00" y="621.00" font-size="6.5" font-weight="bold" text-anchor="end" fill="#000" transform="rotate(-45 299.00 621.00)"  stroke="#000" stroke-width="0.18">V617I</text>
<text x="278.00" y="517.00" font-size="9.1" font-weight="bold" text-anchor="middle" fill="#000"  stroke="#000" stroke-width="0.18">MEP</text>
<text x="220.40" y="568.30" font-size="7.4" font-weight="bold" text-anchor="middle" fill="#000" transform="rotate(-90 220.40 568.30)"  stroke="#000" stroke-width="0.18">% of CD34+ cells</text>
<line x1="243.20" y1="578.75" x2="271.20" y2="578.75" stroke="#222" stroke-width="0.9" />
<line x1="257.20" y1="573.25" x2="257.20" y2="584.50" stroke="#222" stroke-width="0.9" />
<line x1="250.70" y1="573.25" x2="263.70" y2="573.25" stroke="#222" stroke-width="0.9" />
<line x1="250.70" y1="584.50" x2="263.70" y2="584.50" stroke="#222" stroke-width="0.9" />
<circle cx="251.25" cy="564.00" r="1.97" fill="#000"/>
<circle cx="257.50" cy="565.25" r="1.97" fill="#000"/>
<circle cx="262.50" cy="563.25" r="1.97" fill="#000"/>
<circle cx="257.00" cy="572.00" r="1.97" fill="#000"/>
<circle cx="254.50" cy="583.25" r="1.97" fill="#000"/>
<circle cx="259.50" cy="584.00" r="1.97" fill="#000"/>
<circle cx="259.50" cy="595.75" r="1.97" fill="#000"/>
<circle cx="254.25" cy="599.50" r="1.97" fill="#000"/>
<line x1="284.20" y1="568.75" x2="312.20" y2="568.75" stroke="#555" stroke-width="0.9" />
<line x1="298.20" y1="558.25" x2="298.20" y2="578.75" stroke="#555" stroke-width="0.9" />
<line x1="291.70" y1="558.25" x2="304.70" y2="558.25" stroke="#555" stroke-width="0.9" />
<line x1="291.70" y1="578.75" x2="304.70" y2="578.75" stroke="#555" stroke-width="0.9" />
<polygon points="296.28,541.18 300.22,541.18 298.25,544.62" fill="none" stroke="#333" stroke-width="0.8"/>
<polygon points="296.28,566.57 300.22,566.57 298.25,563.13" fill="none" stroke="#333" stroke-width="0.8"/>
<rect x="296.53" y="573.28" width="3.44" height="3.44" fill="none" stroke="#333" stroke-width="0.8"/>
<polygon points="296.04,591.25 298.25,589.04 300.46,591.25 298.25,593.46" fill="none" stroke="#333" stroke-width="0.8"/>
<text x="319.80" y="372.60" font-size="12" font-weight="bold" text-anchor="start" fill="#000" stroke="#000" stroke-width="0.35">C</text>
<line x1="363.50" y1="381.80" x2="363.50" y2="487.60" stroke="#000" stroke-width="1.4" />
<line x1="360.90" y1="382.50" x2="363.50" y2="382.50" stroke="#000" stroke-width="1.4" />
<text x="359.30" y="385.09" font-size="7.2" font-weight="bold" text-anchor="end" fill="#000"  stroke="#000" stroke-width="0.18">200</text>
<line x1="360.90" y1="408.60" x2="363.50" y2="408.60" stroke="#000" stroke-width="1.4" />
<text x="359.30" y="411.19" font-size="7.2" font-weight="bold" text-anchor="end" fill="#000"  stroke="#000" stroke-width="0.18">150</text>
<line x1="360.90" y1="434.70" x2="363.50" y2="434.70" stroke="#000" stroke-width="1.4" />
<text x="359.30" y="437.29" font-size="7.2" font-weight="bold" text-anchor="end" fill="#000"  stroke="#000" stroke-width="0.18">100</text>
<line x1="360.90" y1="460.80" x2="363.50" y2="460.80" stroke="#000" stroke-width="1.4" />
<text x="359.30" y="463.39" font-size="7.2" font-weight="bold" text-anchor="end" fill="#000"  stroke="#000" stroke-width="0.18">50</text>
<line x1="360.90" y1="486.90" x2="363.50" y2="486.90" stroke="#000" stroke-width="1.4" />
<text x="359.30" y="489.49" font-size="7.2" font-weight="bold" text-anchor="end" fill="#000"  stroke="#000" stroke-width="0.18">0</text>
<line x1="362.80" y1="486.90" x2="441.25" y2="486.90" stroke="#000" stroke-width="1.4" />
<line x1="383.50" y1="486.90" x2="383.50" y2="489.90" stroke="#000" stroke-width="1.3" />
<text x="383.50" y="496.70" font-size="7.4" font-weight="bold" text-anchor="end" fill="#000" transform="rotate(-45 383.50 496.70)"  stroke="#000" stroke-width="0.18">NC</text>
<line x1="422.00" y1="486.90" x2="422.00" y2="489.90" stroke="#000" stroke-width="1.3" />
<text x="422.00" y="496.70" font-size="7.4" font-weight="bold" text-anchor="end" fill="#000" transform="rotate(-45 422.00 496.70)"  stroke="#000" stroke-width="0.18">V617I</text>
<text x="341.70" y="434.60" font-size="7.7" font-weight="bold" text-anchor="middle" fill="#000" transform="rotate(-90 341.70 434.60)"  stroke="#000" stroke-width="0.18">No. colonies / 1.5 x 10<tspan font-size="5" dy="-3">4</tspan><tspan dy="3"> BM MNCs</tspan></text>
<rect x="369.60" y="423.50" width="27.40" height="3.00" fill="#fff"/>
<rect x="369.60" y="426.50" width="27.40" height="30.25" fill="#949494"/>
<rect x="369.60" y="456.75" width="27.40" height="30.15" fill="#000"/>
<line x1="369.60" y1="426.80" x2="397.00" y2="426.80" stroke="#000" stroke-width="1.0" />
<rect x="370.30" y="424.20" width="26.00" height="62.70" fill="none" stroke="#000" stroke-width="1.4"/>
<rect x="408.30" y="405.60" width="27.70" height="3.00" fill="#000"/>
<rect x="408.30" y="408.60" width="27.70" height="51.40" fill="#949494"/>
<rect x="408.30" y="460.00" width="27.70" height="26.90" fill="#000"/>
<line x1="408.30" y1="408.90" x2="436.00" y2="408.90" stroke="#000" stroke-width="1.0" />
<rect x="409.00" y="406.30" width="26.30" height="80.60" fill="none" stroke="#000" stroke-width="1.4"/>
<line x1="383.60" y1="456.75" x2="383.60" y2="453.60" stroke="#000" stroke-width="1.4" />
<line x1="376.90" y1="453.60" x2="390.30" y2="453.60" stroke="#000" stroke-width="1.4" />
<line x1="383.60" y1="424.00" x2="383.60" y2="427.00" stroke="#000" stroke-width="1.2" />
<line x1="422.20" y1="460.00" x2="422.20" y2="457.60" stroke="#000" stroke-width="1.4" />
<line x1="415.50" y1="457.60" x2="428.90" y2="457.60" stroke="#000" stroke-width="1.4" />
<polyline points="383.5,418.5 383.5,391 385,389.6 387.8,389.6" fill="none" stroke="#555" stroke-width="0.9"/>
<polyline points="412.6,389.6 418,389.6 419.5,391 419.5,402.3" fill="none" stroke="#555" stroke-width="0.9"/>
<text x="400.20" y="392.30" font-size="9" font-weight="bold" text-anchor="middle" fill="#000"  stroke="#000" stroke-width="0.18">P&lt;.01</text>
<rect x="456.8" y="390.15" width="10.4" height="5.2" fill="#000" stroke="#000" stroke-width="1.35"/>
<text x="473.20" y="395.75" font-size="8.4" font-weight="normal" text-anchor="start" fill="#000" >BFU-E</text>
<rect x="456.8" y="402.65" width="10.4" height="5.2" fill="#949494" stroke="#000" stroke-width="1.35"/>
<text x="473.20" y="408.25" font-size="8.4" font-weight="normal" text-anchor="start" fill="#000" >CFU-GM</text>
<rect x="456.8" y="415.15" width="10.4" height="5.2" fill="#fff" stroke="#000" stroke-width="1.35"/>
<text x="473.20" y="420.75" font-size="8.4" font-weight="normal" text-anchor="start" fill="#000" >CFU-GEMM</text>
<text x="319.50" y="512.30" font-size="12" font-weight="bold" text-anchor="start" fill="#000" stroke="#000" stroke-width="0.35">D</text>
<line x1="362.80" y1="512.55" x2="362.80" y2="618.30" stroke="#000" stroke-width="1.4" />
<line x1="360.20" y1="513.25" x2="362.80" y2="513.25" stroke="#000" stroke-width="1.4" />
<text x="358.60" y="515.84" font-size="7.2" font-weight="bold" text-anchor="end" fill="#000"  stroke="#000" stroke-width="0.18">100</text>
<line x1="360.20" y1="534.12" x2="362.80" y2="534.12" stroke="#000" stroke-width="1.4" />
<text x="358.60" y="536.71" font-size="7.2" font-weight="bold" text-anchor="end" fill="#000"  stroke="#000" stroke-width="0.18">80</text>
<line x1="360.20" y1="554.99" x2="362.80" y2="554.99" stroke="#000" stroke-width="1.4" />
<text x="358.60" y="557.58" font-size="7.2" font-weight="bold" text-anchor="end" fill="#000"  stroke="#000" stroke-width="0.18">60</text>
<line x1="360.20" y1="575.86" x2="362.80" y2="575.86" stroke="#000" stroke-width="1.4" />
<text x="358.60" y="578.45" font-size="7.2" font-weight="bold" text-anchor="end" fill="#000"  stroke="#000" stroke-width="0.18">40</text>
<line x1="360.20" y1="596.73" x2="362.80" y2="596.73" stroke="#000" stroke-width="1.4" />
<text x="358.60" y="599.32" font-size="7.2" font-weight="bold" text-anchor="end" fill="#000"  stroke="#000" stroke-width="0.18">20</text>
<line x1="360.20" y1="617.60" x2="362.80" y2="617.60" stroke="#000" stroke-width="1.4" />
<text x="358.60" y="620.19" font-size="7.2" font-weight="bold" text-anchor="end" fill="#000"  stroke="#000" stroke-width="0.18">0</text>
<line x1="362.10" y1="617.60" x2="441.00" y2="617.60" stroke="#000" stroke-width="1.4" />
<line x1="382.50" y1="617.60" x2="382.50" y2="620.60" stroke="#000" stroke-width="1.3" />
<text x="382.50" y="627.40" font-size="7.4" font-weight="bold" text-anchor="end" fill="#000" transform="rotate(-45 382.50 627.40)"  stroke="#000" stroke-width="0.18">NC</text>
<line x1="421.80" y1="617.60" x2="421.80" y2="620.60" stroke="#000" stroke-width="1.3" />
<text x="421.80" y="627.40" font-size="7.4" font-weight="bold" text-anchor="end" fill="#000" transform="rotate(-45 421.80 627.40)"  stroke="#000" stroke-width="0.18">V617I</text>
<text x="341.70" y="564.80" font-size="7.7" font-weight="bold" text-anchor="middle" fill="#000" transform="rotate(-90 341.70 564.80)"  stroke="#000" stroke-width="0.18">No. colonies / 1 x 10<tspan font-size="5" dy="-3">5</tspan><tspan dy="3"> BM MNCs</tspan></text>
<rect x="368.50" y="559.30" width="27.50" height="7.70" fill="#fff"/>
<rect x="368.50" y="567.00" width="27.50" height="23.60" fill="#949494"/>
<rect x="368.50" y="590.60" width="27.50" height="27.00" fill="#000"/>
<line x1="368.50" y1="567.30" x2="396.00" y2="567.30" stroke="#000" stroke-width="1.0" />
<rect x="369.20" y="560.00" width="26.10" height="57.60" fill="none" stroke="#000" stroke-width="1.4"/>
<rect x="407.90" y="541.60" width="27.30" height="8.20" fill="#fff"/>
<rect x="407.90" y="549.80" width="27.30" height="32.80" fill="#949494"/>
<rect x="407.90" y="582.60" width="27.30" height="35.00" fill="#000"/>
<line x1="407.90" y1="550.10" x2="435.20" y2="550.10" stroke="#000" stroke-width="1.0" />
<rect x="408.60" y="542.30" width="25.90" height="75.30" fill="none" stroke="#000" stroke-width="1.4"/>
<line x1="382.50" y1="590.60" x2="382.50" y2="587.20" stroke="#000" stroke-width="1.4" />
<line x1="375.80" y1="587.20" x2="389.20" y2="587.20" stroke="#000" stroke-width="1.4" />
<line x1="382.50" y1="567.00" x2="382.50" y2="557.50" stroke="#000" stroke-width="1.4" />
<line x1="375.80" y1="557.50" x2="389.20" y2="557.50" stroke="#000" stroke-width="1.4" />
<line x1="421.80" y1="582.60" x2="421.80" y2="578.20" stroke="#000" stroke-width="1.4" />
<line x1="415.10" y1="578.20" x2="428.50" y2="578.20" stroke="#000" stroke-width="1.4" />
<line x1="421.80" y1="549.80" x2="421.80" y2="546.00" stroke="#000" stroke-width="1.4" />
<line x1="415.10" y1="546.00" x2="428.50" y2="546.00" stroke="#000" stroke-width="1.4" />
<line x1="421.80" y1="541.60" x2="421.80" y2="540.50" stroke="#000" stroke-width="1.4" />
<line x1="415.10" y1="540.50" x2="428.50" y2="540.50" stroke="#000" stroke-width="1.4" />
<rect x="450.6" y="525.15" width="10.6" height="5.2" fill="#000" stroke="#000" stroke-width="1.35"/>
<text x="468.20" y="530.75" font-size="8.4" font-weight="normal" text-anchor="start" fill="#000" >3-20 Mk</text>
<rect x="450.6" y="537.25" width="10.6" height="5.2" fill="#949494" stroke="#000" stroke-width="1.35"/>
<text x="468.20" y="542.85" font-size="8.4" font-weight="normal" text-anchor="start" fill="#000" >21-49 Mk</text>
<rect x="450.6" y="549.35" width="10.6" height="5.2" fill="#fff" stroke="#000" stroke-width="1.35"/>
<text x="468.20" y="554.95" font-size="8.4" font-weight="normal" text-anchor="start" fill="#000" >&gt;49 Mk</text>
</svg>
</body></html>
